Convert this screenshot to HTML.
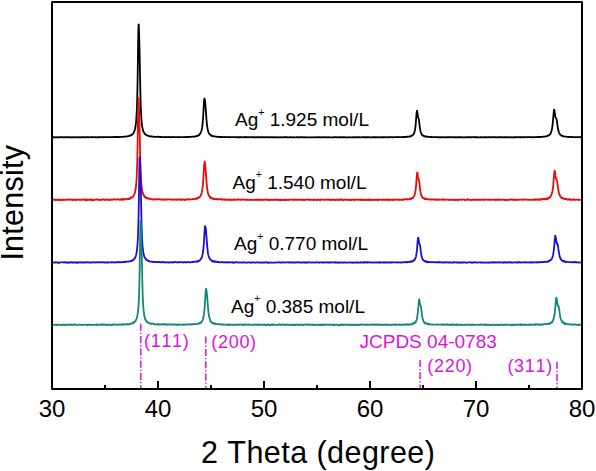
<!DOCTYPE html>
<html><head><meta charset="utf-8"><style>
html,body{margin:0;padding:0;background:#fff;}
svg{display:block;}
text{font-family:"Liberation Sans", sans-serif;font-kerning:none;}
</style></head><body>
<svg width="596" height="471" viewBox="0 0 596 471">
<rect width="596" height="471" fill="#fff"/>
<polyline fill="none" stroke="#000000" stroke-width="1.8" stroke-linejoin="round" points="52.00,137.28 52.50,137.30 53.00,137.26 53.50,137.21 54.00,137.24 54.50,137.20 55.00,137.28 55.50,137.39 56.00,137.24 56.50,137.23 57.00,137.32 57.50,137.31 58.00,137.29 58.50,137.20 59.00,137.27 59.50,137.33 60.00,137.17 60.50,137.24 61.00,137.12 61.50,137.17 62.00,137.12 62.50,137.26 63.00,137.17 63.50,137.30 64.00,137.29 64.50,137.26 65.00,137.07 65.50,137.23 66.00,137.27 66.50,137.28 67.00,137.15 67.50,137.23 68.00,137.19 68.50,137.20 69.00,137.36 69.50,137.20 70.00,137.27 70.50,137.34 71.00,137.22 71.50,137.26 72.00,137.28 72.50,137.27 73.00,137.17 73.50,137.27 74.00,137.38 74.50,137.14 75.00,137.33 75.50,137.27 76.00,137.21 76.50,137.43 77.00,137.32 77.50,137.16 78.00,137.27 78.50,137.31 79.00,137.24 79.50,137.31 80.00,137.25 80.50,137.31 81.00,137.37 81.50,137.20 82.00,137.27 82.50,137.22 83.00,137.26 83.50,137.16 84.00,137.21 84.50,137.24 85.00,137.32 85.50,137.34 86.00,137.14 86.50,137.18 87.00,137.30 87.50,137.08 88.00,137.21 88.50,137.24 89.00,137.35 89.50,137.30 90.00,137.21 90.50,137.21 91.00,137.22 91.50,137.36 92.00,137.20 92.50,137.21 93.00,137.26 93.50,137.22 94.00,137.22 94.50,137.14 95.00,137.23 95.50,137.19 96.00,137.32 96.50,137.28 97.00,137.22 97.50,137.28 98.00,137.19 98.50,137.30 99.00,137.21 99.50,137.26 100.00,137.10 100.50,137.24 101.00,137.07 101.50,137.04 102.00,137.18 102.50,137.12 103.00,137.21 103.50,137.38 104.00,137.12 104.50,137.13 105.00,137.20 105.50,137.22 106.00,137.16 106.50,137.16 107.00,137.23 107.50,137.21 108.00,137.07 108.50,137.15 109.00,137.15 109.50,137.06 110.00,137.16 110.50,137.06 111.00,137.21 111.50,137.14 112.00,137.13 112.50,137.06 113.00,137.09 113.50,136.93 114.00,136.99 114.50,137.11 115.00,136.89 115.50,137.13 116.00,136.91 116.50,137.10 117.00,136.96 117.50,137.08 118.00,137.01 118.50,136.86 119.00,137.08 119.50,137.08 120.00,136.93 120.50,136.90 121.00,136.89 121.50,136.79 122.00,136.95 122.50,136.78 123.00,136.79 123.50,136.69 124.00,136.67 124.50,136.58 125.00,136.75 125.50,136.58 126.00,136.62 126.50,136.48 127.00,136.34 127.50,136.30 128.00,136.19 128.50,136.13 129.00,135.98 129.50,135.84 130.00,135.58 130.50,135.44 130.75,135.55 131.00,135.22 131.25,135.05 131.50,135.03 131.75,134.97 132.00,134.52 132.25,134.43 132.50,134.17 132.75,133.81 133.00,133.76 133.25,133.36 133.50,133.00 133.75,132.49 134.00,132.12 134.25,131.45 134.50,130.81 134.75,129.92 135.00,128.96 135.25,128.08 135.50,126.49 135.75,124.86 136.00,122.66 136.25,119.87 136.50,116.31 136.75,111.78 137.00,105.44 137.25,97.05 137.50,85.74 137.75,71.05 138.00,53.15 138.25,35.72 138.50,24.94 138.75,24.52 139.00,31.31 139.25,39.30 139.50,48.18 139.75,60.13 140.00,73.98 140.25,87.06 140.50,97.80 140.75,105.84 141.00,112.24 141.25,116.54 141.50,120.30 141.75,122.97 142.00,125.14 142.25,126.94 142.50,128.26 142.75,129.11 143.00,129.99 143.25,131.02 143.50,131.49 143.75,132.15 144.00,132.72 144.25,132.89 144.50,133.21 144.75,133.76 145.00,134.02 145.25,134.24 145.50,134.49 145.75,134.60 146.00,134.72 146.25,135.01 146.50,135.08 146.75,135.15 147.00,135.46 147.25,135.52 147.50,135.66 147.75,135.63 148.00,135.74 148.25,135.79 148.50,135.87 149.00,136.09 149.50,136.11 150.00,136.31 150.50,136.39 151.00,136.61 151.50,136.38 152.00,136.63 152.50,136.60 153.00,136.65 153.50,136.57 154.00,136.69 154.50,136.83 155.00,136.79 155.50,136.83 156.00,136.82 156.50,136.97 157.00,136.89 157.50,136.72 158.00,136.87 158.50,136.78 159.00,136.68 159.50,136.93 160.00,137.10 160.50,137.00 161.00,136.91 161.50,136.94 162.00,137.12 162.50,137.05 163.00,137.05 163.50,137.05 164.00,137.06 164.50,137.13 165.00,137.12 165.50,137.09 166.00,136.99 166.50,137.13 167.00,137.03 167.50,137.18 168.00,136.99 168.50,137.09 169.00,137.10 169.50,136.99 170.00,137.25 170.50,137.23 171.00,137.07 171.50,137.18 172.00,137.15 172.50,136.90 173.00,137.14 173.50,137.11 174.00,137.12 174.50,137.03 175.00,137.09 175.50,137.10 176.00,137.21 176.50,137.14 177.00,137.11 177.50,137.24 178.00,137.06 178.50,137.08 179.00,136.95 179.50,137.23 180.00,137.18 180.50,137.17 181.00,137.15 181.50,137.10 182.00,137.10 182.50,137.06 183.00,137.06 183.50,137.07 184.00,137.19 184.50,137.10 185.00,137.04 185.50,136.99 186.00,136.97 186.50,137.15 187.00,137.04 187.50,136.99 188.00,136.94 188.50,136.86 189.00,136.93 189.50,136.99 190.00,136.86 190.50,136.85 191.00,136.83 191.50,136.82 192.00,136.64 192.50,136.72 193.00,136.63 193.50,136.73 194.00,136.53 194.50,136.58 195.00,136.58 195.50,136.33 196.00,136.21 196.30,136.20 196.50,136.13 196.55,136.03 196.80,136.09 197.00,136.17 197.05,135.95 197.30,135.87 197.50,135.71 197.55,135.82 197.80,135.57 198.00,135.49 198.05,135.68 198.30,135.35 198.50,135.41 198.55,135.42 198.80,135.14 199.00,135.02 199.05,135.11 199.30,134.70 199.50,134.47 199.55,134.34 199.80,134.19 200.00,134.07 200.05,133.96 200.30,133.40 200.50,133.06 200.55,133.00 200.80,132.56 201.00,132.02 201.05,131.93 201.30,131.20 201.50,130.44 201.55,130.27 201.80,129.20 202.00,128.11 202.05,127.88 202.30,126.36 202.50,124.59 202.55,124.08 202.80,121.28 203.00,119.00 203.05,118.04 203.30,114.23 203.50,110.99 203.55,110.06 203.80,105.39 204.00,101.94 204.05,101.41 204.30,98.89 204.50,98.45 204.55,98.69 204.80,99.39 205.00,100.70 205.05,101.06 205.30,103.54 205.50,105.75 205.55,106.23 205.80,109.76 206.00,112.54 206.05,113.56 206.30,117.17 206.50,119.81 206.55,120.25 206.80,123.12 207.00,124.90 207.05,125.29 207.30,127.13 207.50,128.24 207.55,128.50 207.80,129.93 208.00,130.63 208.05,130.86 208.30,131.74 208.50,132.02 208.55,132.23 208.80,132.89 209.00,133.29 209.05,133.31 209.30,133.84 209.50,134.04 209.55,133.97 209.80,134.30 210.00,134.67 210.05,134.69 210.30,134.69 210.50,135.15 210.55,135.12 210.80,135.36 211.00,135.33 211.05,135.37 211.30,135.43 211.50,135.86 211.55,135.64 211.80,135.91 212.00,135.79 212.05,135.88 212.30,135.81 212.50,135.99 212.55,136.13 212.80,136.00 213.00,136.26 213.05,136.21 213.30,136.15 213.50,136.25 213.55,136.26 213.80,136.35 214.00,136.35 214.05,136.33 214.50,136.45 215.00,136.47 215.50,136.51 216.00,136.67 216.50,136.80 217.00,136.64 217.50,136.81 218.00,136.79 218.50,136.79 219.00,136.98 219.50,136.88 220.00,137.08 220.50,136.91 221.00,137.02 221.50,136.99 222.00,136.96 222.50,137.09 223.00,137.04 223.50,137.11 224.00,137.07 224.50,136.99 225.00,137.09 225.50,137.11 226.00,137.19 226.50,137.04 227.00,137.12 227.50,136.99 228.00,137.20 228.50,137.06 229.00,137.00 229.50,137.15 230.00,137.25 230.50,137.04 231.00,137.08 231.50,137.11 232.00,137.09 232.50,137.22 233.00,137.12 233.50,137.13 234.00,137.24 234.50,137.14 235.00,137.24 235.50,137.12 236.00,137.11 236.50,137.06 237.00,137.36 237.50,137.19 238.00,137.24 238.50,137.22 239.00,137.23 239.50,137.23 240.00,137.38 240.50,137.14 241.00,137.10 241.50,137.15 242.00,137.12 242.50,137.29 243.00,137.30 243.50,137.16 244.00,137.12 244.50,137.21 245.00,137.35 245.50,137.01 246.00,137.28 246.50,137.15 247.00,137.33 247.50,137.16 248.00,137.22 248.50,137.12 249.00,137.17 249.50,137.36 250.00,137.32 250.50,137.22 251.00,137.18 251.50,137.10 252.00,137.22 252.50,137.25 253.00,137.25 253.50,137.25 254.00,137.16 254.50,137.25 255.00,137.25 255.50,137.36 256.00,137.41 256.50,137.25 257.00,137.20 257.50,137.26 258.00,137.21 258.50,137.20 259.00,137.26 259.50,137.18 260.00,137.31 260.50,137.26 261.00,137.28 261.50,137.25 262.00,137.21 262.50,137.19 263.00,137.25 263.50,137.22 264.00,137.29 264.50,137.27 265.00,137.16 265.50,137.27 266.00,137.16 266.50,137.22 267.00,137.25 267.50,137.10 268.00,137.28 268.50,137.28 269.00,137.26 269.50,137.24 270.00,137.24 270.50,137.19 271.00,137.25 271.50,137.23 272.00,137.28 272.50,137.18 273.00,137.29 273.50,137.29 274.00,137.26 274.50,137.24 275.00,137.32 275.50,137.14 276.00,137.31 276.50,137.29 277.00,137.30 277.50,137.31 278.00,137.22 278.50,137.25 279.00,137.33 279.50,137.31 280.00,137.29 280.50,137.15 281.00,137.32 281.50,137.37 282.00,137.36 282.50,137.30 283.00,137.15 283.50,137.35 284.00,137.27 284.50,137.07 285.00,137.31 285.50,137.16 286.00,137.17 286.50,137.23 287.00,137.38 287.50,137.25 288.00,137.30 288.50,137.42 289.00,137.41 289.50,137.27 290.00,137.26 290.50,137.18 291.00,137.22 291.50,137.31 292.00,137.31 292.50,137.29 293.00,137.36 293.50,137.22 294.00,137.28 294.50,137.34 295.00,137.33 295.50,137.37 296.00,137.31 296.50,137.26 297.00,137.31 297.50,137.20 298.00,137.15 298.50,137.33 299.00,137.28 299.50,137.31 300.00,137.14 300.50,137.25 301.00,137.23 301.50,137.21 302.00,137.10 302.50,137.26 303.00,137.36 303.50,137.31 304.00,137.23 304.50,137.28 305.00,137.34 305.50,137.06 306.00,137.27 306.50,137.33 307.00,137.34 307.50,137.42 308.00,137.38 308.50,137.31 309.00,137.31 309.50,137.35 310.00,137.24 310.50,137.28 311.00,137.36 311.50,137.44 312.00,137.27 312.50,137.28 313.00,137.30 313.50,137.39 314.00,137.28 314.50,137.40 315.00,137.21 315.50,137.27 316.00,137.27 316.50,137.35 317.00,137.37 317.50,137.16 318.00,137.21 318.50,137.31 319.00,137.23 319.50,137.16 320.00,137.37 320.50,137.32 321.00,137.32 321.50,137.25 322.00,137.37 322.50,137.26 323.00,137.37 323.50,137.21 324.00,137.21 324.50,137.30 325.00,137.23 325.50,137.34 326.00,137.30 326.50,137.21 327.00,137.29 327.50,137.26 328.00,137.36 328.50,137.23 329.00,137.25 329.50,137.38 330.00,137.47 330.50,137.45 331.00,137.29 331.50,137.30 332.00,137.41 332.50,137.27 333.00,137.20 333.50,137.29 334.00,137.32 334.50,137.22 335.00,137.15 335.50,137.17 336.00,137.34 336.50,137.22 337.00,137.27 337.50,137.30 338.00,137.33 338.50,137.26 339.00,137.32 339.50,137.21 340.00,137.25 340.50,137.20 341.00,137.37 341.50,137.28 342.00,137.22 342.50,137.25 343.00,137.26 343.50,137.34 344.00,137.15 344.50,137.20 345.00,137.25 345.50,137.49 346.00,137.36 346.50,137.27 347.00,137.34 347.50,137.45 348.00,137.26 348.50,137.25 349.00,137.38 349.50,137.32 350.00,137.34 350.50,137.24 351.00,137.44 351.50,137.42 352.00,137.33 352.50,137.34 353.00,137.12 353.50,137.33 354.00,137.26 354.50,137.31 355.00,137.33 355.50,137.25 356.00,137.14 356.50,137.31 357.00,137.22 357.50,137.25 358.00,137.23 358.50,137.25 359.00,137.09 359.50,137.38 360.00,137.30 360.50,137.37 361.00,137.44 361.50,137.28 362.00,137.13 362.50,137.20 363.00,137.18 363.50,137.23 364.00,137.28 364.50,137.11 365.00,137.30 365.50,137.15 366.00,137.30 366.50,137.26 367.00,137.25 367.50,137.27 368.00,137.23 368.50,137.22 369.00,137.13 369.50,137.27 370.00,137.42 370.50,137.43 371.00,137.38 371.50,137.33 372.00,137.21 372.50,137.39 373.00,137.26 373.50,137.26 374.00,137.24 374.50,137.27 375.00,137.23 375.50,137.26 376.00,137.18 376.50,137.23 377.00,137.45 377.50,137.26 378.00,137.24 378.50,137.30 379.00,137.32 379.50,137.17 380.00,137.24 380.50,137.33 381.00,137.28 381.50,137.26 382.00,137.38 382.50,137.20 383.00,137.26 383.50,137.21 384.00,137.37 384.50,137.09 385.00,137.19 385.50,137.20 386.00,137.30 386.50,137.29 387.00,137.35 387.50,137.11 388.00,137.30 388.50,137.21 389.00,137.18 389.50,137.27 390.00,137.15 390.50,137.05 391.00,137.19 391.50,137.10 392.00,137.16 392.50,137.24 393.00,137.24 393.50,137.34 394.00,137.19 394.50,137.07 395.00,137.13 395.50,137.11 396.00,137.08 396.50,137.22 397.00,137.12 397.50,137.00 398.00,137.22 398.50,137.15 399.00,137.18 399.50,137.15 400.00,137.18 400.50,137.12 401.00,137.21 401.50,137.13 402.00,137.12 402.50,137.11 403.00,136.93 403.50,137.02 404.00,137.00 404.50,137.01 405.00,136.86 405.50,137.08 406.00,136.92 406.50,136.78 407.00,136.69 407.50,136.77 408.00,136.73 408.50,136.61 408.90,136.62 409.00,136.54 409.15,136.62 409.40,136.47 409.50,136.51 409.65,136.56 409.90,136.65 410.00,136.31 410.15,136.32 410.40,136.22 410.50,136.34 410.65,136.12 410.90,136.10 411.00,136.10 411.15,135.96 411.40,135.86 411.50,135.85 411.65,135.64 411.90,135.56 412.00,135.59 412.15,135.55 412.40,135.34 412.50,135.12 412.65,135.11 412.90,134.99 413.00,134.86 413.15,134.63 413.40,134.22 413.50,134.22 413.65,133.86 413.90,133.33 414.00,133.14 414.15,133.00 414.40,132.17 414.50,131.93 414.65,131.21 414.90,130.25 415.00,129.57 415.15,128.73 415.40,127.22 415.50,126.20 415.65,124.65 415.90,121.90 416.00,120.69 416.15,118.78 416.40,115.16 416.50,113.73 416.65,112.28 416.90,110.80 417.00,110.71 417.15,111.22 417.40,112.67 417.50,113.51 417.65,114.45 417.90,116.30 418.00,116.92 418.15,117.31 418.40,117.85 418.50,118.06 418.65,118.67 418.90,119.53 419.00,120.28 419.15,121.51 419.40,123.74 419.50,124.50 419.65,125.88 419.90,127.75 420.00,128.47 420.15,129.37 420.40,130.55 420.50,131.11 420.65,131.78 420.90,132.42 421.00,132.78 421.15,133.24 421.40,133.61 421.50,133.92 421.65,134.05 421.90,134.62 422.00,134.86 422.15,135.01 422.40,135.06 422.50,135.24 422.65,135.31 422.90,135.49 423.00,135.69 423.15,135.53 423.40,135.88 423.50,135.84 423.65,136.04 423.90,136.04 424.00,136.00 424.15,136.14 424.40,136.27 424.50,136.24 424.65,136.32 424.90,136.30 425.00,136.19 425.15,136.49 425.40,136.53 425.50,136.50 425.65,136.52 425.90,136.66 426.00,136.54 426.15,136.55 426.40,136.63 426.50,136.76 426.65,136.56 427.00,136.83 427.50,136.73 428.00,136.74 428.50,136.98 429.00,136.90 429.50,136.83 430.00,136.94 430.50,137.07 431.00,137.11 431.50,137.00 432.00,137.09 432.50,137.13 433.00,137.03 433.50,137.12 434.00,137.10 434.50,137.07 435.00,137.09 435.50,137.14 436.00,137.15 436.50,137.11 437.00,137.12 437.50,137.26 438.00,137.19 438.50,137.25 439.00,137.28 439.50,137.24 440.00,137.38 440.50,137.13 441.00,137.27 441.50,137.18 442.00,137.36 442.50,137.35 443.00,137.05 443.50,137.14 444.00,137.27 444.50,137.29 445.00,137.29 445.50,137.22 446.00,137.27 446.50,137.29 447.00,137.23 447.50,137.32 448.00,137.05 448.50,137.29 449.00,137.16 449.50,137.32 450.00,137.22 450.50,137.17 451.00,137.28 451.50,137.17 452.00,137.17 452.50,137.12 453.00,137.25 453.50,137.29 454.00,137.34 454.50,137.24 455.00,137.34 455.50,137.26 456.00,137.25 456.50,137.30 457.00,137.34 457.50,137.23 458.00,137.24 458.50,137.25 459.00,137.27 459.50,137.19 460.00,137.35 460.50,137.23 461.00,137.30 461.50,137.20 462.00,137.29 462.50,137.30 463.00,137.23 463.50,137.43 464.00,137.30 464.50,137.41 465.00,137.34 465.50,137.21 466.00,137.24 466.50,137.30 467.00,137.27 467.50,137.27 468.00,137.25 468.50,137.12 469.00,137.25 469.50,137.09 470.00,137.30 470.50,137.21 471.00,137.21 471.50,137.25 472.00,137.29 472.50,137.15 473.00,137.13 473.50,137.18 474.00,137.11 474.50,137.19 475.00,137.40 475.50,137.19 476.00,137.32 476.50,137.16 477.00,137.30 477.50,137.25 478.00,137.27 478.50,137.32 479.00,137.42 479.50,137.29 480.00,137.28 480.50,137.19 481.00,137.32 481.50,137.25 482.00,137.34 482.50,137.27 483.00,137.41 483.50,137.11 484.00,137.25 484.50,137.34 485.00,137.24 485.50,137.21 486.00,137.25 486.50,137.16 487.00,137.28 487.50,137.47 488.00,137.37 488.50,137.18 489.00,137.20 489.50,137.24 490.00,137.35 490.50,137.20 491.00,137.22 491.50,137.34 492.00,137.34 492.50,137.24 493.00,137.18 493.50,137.14 494.00,137.21 494.50,137.09 495.00,137.33 495.50,137.22 496.00,137.31 496.50,137.42 497.00,137.36 497.50,137.17 498.00,137.34 498.50,137.36 499.00,137.21 499.50,137.19 500.00,137.26 500.50,137.14 501.00,137.39 501.50,137.07 502.00,137.18 502.50,137.24 503.00,137.25 503.50,137.28 504.00,137.29 504.50,137.25 505.00,137.36 505.50,137.09 506.00,137.26 506.50,137.20 507.00,137.27 507.50,137.28 508.00,137.19 508.50,137.21 509.00,137.32 509.50,137.29 510.00,137.20 510.50,137.42 511.00,137.44 511.50,137.14 512.00,137.28 512.50,137.46 513.00,137.32 513.50,137.27 514.00,137.23 514.50,137.20 515.00,137.23 515.50,137.20 516.00,137.31 516.50,137.21 517.00,137.21 517.50,137.14 518.00,137.24 518.50,137.17 519.00,137.22 519.50,137.32 520.00,137.26 520.50,137.27 521.00,137.26 521.50,137.23 522.00,137.22 522.50,137.20 523.00,137.29 523.50,137.13 524.00,137.33 524.50,137.22 525.00,137.15 525.50,137.17 526.00,137.15 526.50,137.22 527.00,137.14 527.50,137.29 528.00,137.13 528.50,137.00 529.00,137.13 529.50,137.02 530.00,137.18 530.50,137.26 531.00,137.22 531.50,137.05 532.00,137.09 532.50,137.30 533.00,137.17 533.50,137.14 534.00,137.22 534.50,137.33 535.00,137.22 535.50,137.12 536.00,137.12 536.50,137.13 537.00,137.02 537.50,136.97 538.00,137.05 538.50,136.95 539.00,137.01 539.50,137.00 540.00,137.17 540.50,136.88 541.00,136.91 541.50,136.88 542.00,136.90 542.50,136.91 543.00,136.74 543.50,136.67 544.00,136.54 544.50,136.54 545.00,136.60 545.50,136.48 546.00,136.29 546.10,136.32 546.35,136.30 546.50,136.31 546.60,136.18 546.85,136.15 547.00,135.96 547.10,135.99 547.35,136.16 547.50,135.76 547.60,135.89 547.85,135.84 548.00,135.72 548.10,135.64 548.35,135.58 548.50,135.50 548.60,135.44 548.85,135.11 549.00,135.17 549.10,135.03 549.35,134.85 549.50,134.79 549.60,134.73 549.85,134.48 550.00,134.17 550.10,134.17 550.35,133.83 550.50,133.58 550.60,133.42 550.85,132.77 551.00,132.41 551.10,132.26 551.35,131.31 551.50,130.96 551.60,130.51 551.85,129.45 552.00,128.55 552.10,128.08 552.35,126.55 552.50,125.51 552.60,124.68 552.85,122.18 553.00,120.54 553.10,119.32 553.35,116.42 553.50,114.53 553.60,113.48 553.85,111.27 554.00,110.18 554.10,109.69 554.35,109.99 554.50,110.64 554.60,111.31 554.85,113.49 555.00,114.48 555.10,114.97 555.35,116.63 555.50,117.29 555.60,117.39 555.85,117.79 556.00,117.97 556.10,118.13 556.35,118.56 556.50,119.07 556.60,119.48 556.85,120.88 557.00,121.95 557.10,122.63 557.35,124.31 557.50,125.59 557.60,126.34 557.85,127.88 558.00,128.87 558.10,129.25 558.35,130.33 558.50,131.15 558.60,131.42 558.85,132.14 559.00,132.61 559.10,132.86 559.35,133.32 559.50,133.33 559.60,133.67 559.85,134.06 560.00,134.21 560.10,134.44 560.35,134.81 560.50,134.80 560.60,134.83 560.85,135.33 561.00,135.21 561.10,135.21 561.35,135.50 561.50,135.60 561.60,135.55 561.85,135.81 562.00,135.76 562.10,135.77 562.35,135.97 562.50,136.07 562.60,135.98 562.85,136.15 563.00,136.16 563.10,136.44 563.35,136.20 563.50,136.42 563.60,136.32 563.85,136.36 564.00,136.47 564.50,136.58 565.00,136.69 565.50,136.67 566.00,136.65 566.50,136.71 567.00,136.84 567.50,136.89 568.00,136.99 568.50,136.94 569.00,137.02 569.50,137.09 570.00,136.99 570.50,136.87 571.00,136.92 571.50,136.91 572.00,137.18 572.50,136.99 573.00,137.18 573.50,137.14 574.00,137.24 574.50,137.19 575.00,137.11 575.50,137.11 576.00,137.14 576.50,137.16 577.00,137.11 577.50,137.15 578.00,137.30 578.50,137.03 579.00,137.19 579.50,137.10 580.00,137.20 580.50,137.26 581.00,137.19 581.50,137.26 582.00,137.07"/><polyline fill="none" stroke="#e80c0c" stroke-width="1.8" stroke-linejoin="round" points="52.00,200.01 52.50,199.66 53.00,199.91 53.50,199.82 54.00,199.26 54.50,199.63 55.00,199.82 55.50,200.10 56.00,199.84 56.50,199.83 57.00,199.49 57.50,200.07 58.00,200.15 58.50,199.78 59.00,199.73 59.50,199.45 60.00,199.96 60.50,200.33 61.00,199.92 61.50,200.03 62.00,199.89 62.50,199.58 63.00,200.05 63.50,199.53 64.00,199.73 64.50,199.83 65.00,199.95 65.50,199.86 66.00,199.85 66.50,199.62 67.00,199.51 67.50,199.79 68.00,199.63 68.50,199.51 69.00,199.52 69.50,199.67 70.00,199.40 70.50,199.50 71.00,199.44 71.50,199.81 72.00,199.85 72.50,200.18 73.00,199.46 73.50,199.63 74.00,199.95 74.50,199.72 75.00,199.70 75.50,200.12 76.00,199.70 76.50,199.53 77.00,199.50 77.50,199.83 78.00,199.83 78.50,199.48 79.00,199.56 79.50,199.87 80.00,199.88 80.50,199.63 81.00,199.89 81.50,199.88 82.00,199.40 82.50,199.70 83.00,199.84 83.50,199.64 84.00,199.32 84.50,199.70 85.00,199.91 85.50,200.08 86.00,199.31 86.50,200.29 87.00,199.52 87.50,199.95 88.00,200.00 88.50,199.95 89.00,199.78 89.50,199.51 90.00,199.88 90.50,199.60 91.00,199.23 91.50,200.32 92.00,199.89 92.50,200.11 93.00,199.55 93.50,200.04 94.00,200.06 94.50,200.06 95.00,199.73 95.50,199.49 96.00,199.70 96.50,199.28 97.00,199.38 97.50,199.75 98.00,199.52 98.50,199.69 99.00,199.70 99.50,200.12 100.00,199.99 100.50,199.71 101.00,199.96 101.50,199.55 102.00,199.64 102.50,199.90 103.00,199.45 103.50,199.65 104.00,199.43 104.50,199.72 105.00,200.03 105.50,199.54 106.00,199.74 106.50,199.50 107.00,199.44 107.50,199.42 108.00,199.98 108.50,200.16 109.00,199.77 109.50,199.51 110.00,199.80 110.50,199.58 111.00,199.81 111.50,199.70 112.00,199.69 112.50,199.76 113.00,199.50 113.50,199.53 114.00,199.25 114.50,199.51 115.00,199.30 115.50,199.55 116.00,199.38 116.50,199.59 117.00,199.65 117.50,199.25 118.00,199.36 118.50,199.32 119.00,199.66 119.50,199.85 120.00,199.65 120.50,199.38 121.00,199.75 121.50,199.10 122.00,199.71 122.50,199.23 123.00,198.75 123.50,199.88 124.00,199.62 124.50,199.02 125.00,199.24 125.50,199.11 126.00,199.13 126.50,198.73 127.00,198.84 127.50,199.02 128.00,198.88 128.50,199.00 129.00,198.64 129.50,199.02 130.00,198.18 130.40,198.26 130.50,197.73 130.65,197.82 130.90,198.30 131.00,197.74 131.15,198.00 131.40,197.73 131.50,197.45 131.65,197.52 131.90,197.32 132.00,197.26 132.15,197.43 132.40,197.21 132.50,196.83 132.65,196.62 132.90,196.64 133.00,196.44 133.15,196.53 133.40,196.59 133.50,196.01 133.65,195.56 133.90,195.09 134.00,194.73 134.15,194.40 134.40,193.77 134.50,193.66 134.65,193.21 134.90,192.66 135.00,191.98 135.15,191.40 135.40,189.88 135.50,190.06 135.65,188.80 135.90,187.22 136.00,186.05 136.15,184.70 136.40,181.05 136.50,179.80 136.65,177.76 136.90,171.02 137.00,169.03 137.15,164.44 137.40,153.92 137.50,149.12 137.65,140.96 137.90,124.34 138.00,118.21 138.15,108.73 138.40,99.31 138.50,98.18 138.65,99.28 138.90,105.11 139.00,108.05 139.15,111.62 139.40,121.04 139.50,124.62 139.65,131.13 139.90,143.06 140.00,148.03 140.15,155.05 140.40,164.58 140.50,167.09 140.65,172.01 140.90,178.15 141.00,178.51 141.15,181.69 141.40,184.64 141.50,185.55 141.65,187.34 141.90,188.53 142.00,189.55 142.15,190.76 142.40,191.54 142.50,191.91 142.65,192.62 142.90,193.31 143.00,194.11 143.15,193.89 143.40,194.93 143.50,194.60 143.65,195.37 143.90,195.61 144.00,195.15 144.15,196.01 144.40,196.07 144.50,196.34 144.65,196.99 144.90,196.60 145.00,196.70 145.15,197.43 145.40,197.31 145.50,197.73 145.65,197.54 145.90,197.41 146.00,197.66 146.15,198.05 146.40,198.11 146.50,197.94 146.65,198.02 146.90,198.09 147.00,198.02 147.15,198.66 147.40,198.30 147.50,198.07 147.65,198.27 147.90,198.62 148.00,198.63 148.15,198.50 148.50,198.46 149.00,198.73 149.50,198.44 150.00,198.61 150.50,199.15 151.00,198.93 151.50,199.18 152.00,199.41 152.50,199.33 153.00,199.23 153.50,199.73 154.00,199.44 154.50,199.25 155.00,199.51 155.50,199.46 156.00,199.21 156.50,199.43 157.00,199.40 157.50,199.02 158.00,199.43 158.50,199.42 159.00,199.40 159.50,199.15 160.00,199.44 160.50,199.52 161.00,199.56 161.50,199.30 162.00,199.69 162.50,199.30 163.00,199.52 163.50,199.86 164.00,199.43 164.50,199.48 165.00,199.82 165.50,199.51 166.00,199.54 166.50,199.65 167.00,199.83 167.50,199.14 168.00,199.44 168.50,199.40 169.00,199.39 169.50,199.44 170.00,199.44 170.50,199.69 171.00,199.44 171.50,199.65 172.00,199.72 172.50,199.47 173.00,199.66 173.50,199.98 174.00,199.70 174.50,199.50 175.00,199.62 175.50,199.44 176.00,199.69 176.50,199.81 177.00,199.45 177.50,199.58 178.00,199.86 178.50,199.52 179.00,199.66 179.50,199.40 180.00,199.44 180.50,199.50 181.00,200.06 181.50,199.52 182.00,199.49 182.50,199.47 183.00,199.55 183.50,199.72 184.00,199.61 184.50,200.00 185.00,199.60 185.50,199.85 186.00,199.60 186.50,199.66 187.00,199.21 187.50,199.48 188.00,199.48 188.50,199.42 189.00,199.00 189.50,199.63 190.00,199.34 190.50,199.30 191.00,199.32 191.50,199.29 192.00,199.40 192.50,199.00 193.00,199.03 193.50,199.25 194.00,199.16 194.50,198.99 195.00,198.87 195.50,198.73 196.00,198.80 196.40,198.99 196.50,198.47 196.65,199.00 196.90,198.78 197.00,198.46 197.15,198.69 197.40,198.11 197.50,198.01 197.65,198.05 197.90,198.15 198.00,198.12 198.15,198.01 198.40,198.02 198.50,197.45 198.65,197.97 198.90,197.37 199.00,197.47 199.15,197.41 199.40,197.04 199.50,196.89 199.65,196.83 199.90,196.79 200.00,196.82 200.15,196.62 200.40,195.88 200.50,195.77 200.65,195.47 200.90,195.30 201.00,194.47 201.15,194.90 201.40,193.76 201.50,193.35 201.65,193.10 201.90,192.22 202.00,191.55 202.15,190.92 202.40,189.07 202.50,188.61 202.65,187.35 202.90,184.48 203.00,183.74 203.15,181.45 203.40,177.68 203.50,175.73 203.65,173.30 203.90,169.22 204.00,166.92 204.15,165.36 204.40,162.88 204.50,162.41 204.65,161.49 204.90,163.10 205.00,163.98 205.15,164.68 205.40,167.20 205.50,167.46 205.65,170.12 205.90,172.96 206.00,174.83 206.15,176.18 206.40,180.42 206.50,181.46 206.65,183.59 206.90,185.78 207.00,186.80 207.15,188.83 207.40,189.79 207.50,190.43 207.65,191.37 207.90,192.34 208.00,193.31 208.15,193.98 208.40,194.16 208.50,194.18 208.65,195.26 208.90,195.79 209.00,195.91 209.15,196.25 209.40,196.16 209.50,196.46 209.65,196.37 209.90,196.65 210.00,197.32 210.15,197.08 210.40,197.98 210.50,197.55 210.65,197.49 210.90,197.99 211.00,198.28 211.15,198.07 211.40,197.82 211.50,198.23 211.65,198.52 211.90,198.21 212.00,198.19 212.15,198.64 212.40,198.53 212.50,198.29 212.65,198.50 212.90,198.49 213.00,198.75 213.15,198.74 213.40,199.03 213.50,198.96 213.65,198.49 213.90,198.98 214.00,199.10 214.15,199.03 214.50,199.22 215.00,198.95 215.50,198.93 216.00,199.39 216.50,199.01 217.00,198.82 217.50,199.54 218.00,199.20 218.50,199.32 219.00,199.12 219.50,199.16 220.00,199.22 220.50,199.40 221.00,199.58 221.50,199.03 222.00,199.69 222.50,199.30 223.00,199.33 223.50,199.71 224.00,199.57 224.50,199.27 225.00,199.99 225.50,199.43 226.00,199.67 226.50,199.67 227.00,199.93 227.50,199.55 228.00,199.86 228.50,199.50 229.00,199.89 229.50,199.50 230.00,199.59 230.50,200.07 231.00,199.74 231.50,199.70 232.00,200.15 232.50,199.76 233.00,199.52 233.50,199.85 234.00,199.45 234.50,199.93 235.00,199.95 235.50,199.59 236.00,199.58 236.50,199.75 237.00,199.72 237.50,199.52 238.00,199.84 238.50,199.30 239.00,199.63 239.50,199.64 240.00,199.67 240.50,199.79 241.00,199.48 241.50,199.85 242.00,199.70 242.50,199.60 243.00,199.46 243.50,199.50 244.00,199.81 244.50,199.54 245.00,199.75 245.50,199.96 246.00,199.96 246.50,200.06 247.00,199.69 247.50,199.53 248.00,199.96 248.50,199.81 249.00,199.98 249.50,199.75 250.00,200.00 250.50,199.93 251.00,199.90 251.50,199.86 252.00,199.84 252.50,199.80 253.00,199.80 253.50,199.96 254.00,199.65 254.50,200.11 255.00,199.74 255.50,199.96 256.00,199.74 256.50,199.71 257.00,200.18 257.50,199.70 258.00,199.50 258.50,199.62 259.00,199.70 259.50,200.20 260.00,199.81 260.50,199.96 261.00,199.56 261.50,199.84 262.00,199.90 262.50,200.13 263.00,199.63 263.50,199.89 264.00,199.83 264.50,199.56 265.00,199.77 265.50,199.72 266.00,199.30 266.50,199.89 267.00,199.88 267.50,199.68 268.00,199.50 268.50,200.07 269.00,199.83 269.50,199.98 270.00,200.06 270.50,199.67 271.00,199.94 271.50,199.72 272.00,199.76 272.50,199.76 273.00,199.77 273.50,200.00 274.00,199.80 274.50,199.74 275.00,199.72 275.50,199.85 276.00,199.59 276.50,199.67 277.00,199.77 277.50,199.66 278.00,199.75 278.50,199.65 279.00,200.18 279.50,200.05 280.00,199.87 280.50,199.77 281.00,200.22 281.50,199.84 282.00,199.76 282.50,199.84 283.00,199.84 283.50,200.07 284.00,199.78 284.50,200.21 285.00,199.60 285.50,199.92 286.00,199.58 286.50,200.15 287.00,199.71 287.50,199.77 288.00,199.97 288.50,200.03 289.00,199.55 289.50,199.71 290.00,199.50 290.50,199.81 291.00,199.76 291.50,199.71 292.00,199.64 292.50,199.70 293.00,199.63 293.50,199.89 294.00,200.09 294.50,199.39 295.00,199.76 295.50,199.70 296.00,199.88 296.50,199.59 297.00,199.75 297.50,199.57 298.00,199.92 298.50,199.80 299.00,199.75 299.50,199.86 300.00,199.73 300.50,199.47 301.00,199.90 301.50,199.84 302.00,199.75 302.50,199.98 303.00,200.03 303.50,199.56 304.00,199.63 304.50,200.10 305.00,200.07 305.50,199.63 306.00,199.54 306.50,199.65 307.00,199.68 307.50,199.46 308.00,199.79 308.50,199.52 309.00,199.54 309.50,199.97 310.00,199.65 310.50,199.77 311.00,199.91 311.50,199.95 312.00,199.72 312.50,199.79 313.00,199.62 313.50,200.14 314.00,199.92 314.50,199.56 315.00,199.78 315.50,199.93 316.00,199.88 316.50,200.15 317.00,200.06 317.50,199.68 318.00,199.77 318.50,199.52 319.00,199.83 319.50,199.81 320.00,200.33 320.50,199.80 321.00,199.36 321.50,199.65 322.00,199.81 322.50,199.53 323.00,199.61 323.50,199.71 324.00,199.85 324.50,199.75 325.00,199.60 325.50,199.94 326.00,199.67 326.50,199.68 327.00,199.50 327.50,199.63 328.00,199.92 328.50,199.46 329.00,199.77 329.50,199.93 330.00,199.71 330.50,199.83 331.00,199.56 331.50,200.05 332.00,200.01 332.50,199.83 333.00,199.43 333.50,199.57 334.00,199.98 334.50,200.13 335.00,199.84 335.50,200.04 336.00,199.66 336.50,199.75 337.00,199.78 337.50,199.87 338.00,199.47 338.50,199.97 339.00,200.05 339.50,199.55 340.00,199.51 340.50,199.85 341.00,199.65 341.50,199.30 342.00,199.95 342.50,199.81 343.00,199.69 343.50,200.21 344.00,199.81 344.50,199.63 345.00,199.80 345.50,199.57 346.00,199.63 346.50,199.86 347.00,199.67 347.50,199.69 348.00,200.12 348.50,199.96 349.00,199.94 349.50,199.89 350.00,199.88 350.50,200.08 351.00,199.78 351.50,200.16 352.00,199.59 352.50,199.73 353.00,199.50 353.50,199.71 354.00,199.88 354.50,200.07 355.00,199.64 355.50,199.78 356.00,199.71 356.50,199.63 357.00,199.54 357.50,199.79 358.00,199.43 358.50,199.80 359.00,199.78 359.50,199.64 360.00,199.57 360.50,199.50 361.00,200.16 361.50,199.50 362.00,200.09 362.50,199.90 363.00,199.70 363.50,199.54 364.00,199.99 364.50,200.13 365.00,199.58 365.50,199.71 366.00,199.99 366.50,199.84 367.00,200.18 367.50,199.66 368.00,199.88 368.50,199.52 369.00,200.20 369.50,199.62 370.00,199.32 370.50,199.74 371.00,199.74 371.50,200.16 372.00,199.70 372.50,199.77 373.00,199.89 373.50,200.09 374.00,199.75 374.50,199.98 375.00,199.87 375.50,199.70 376.00,199.78 376.50,199.77 377.00,199.58 377.50,200.01 378.00,199.48 378.50,200.00 379.00,199.95 379.50,199.74 380.00,199.60 380.50,199.71 381.00,199.85 381.50,199.91 382.00,199.81 382.50,199.95 383.00,199.64 383.50,199.80 384.00,199.43 384.50,199.90 385.00,199.78 385.50,199.66 386.00,199.98 386.50,199.88 387.00,199.16 387.50,199.75 388.00,199.44 388.50,199.95 389.00,200.24 389.50,199.62 390.00,199.74 390.50,199.67 391.00,199.79 391.50,199.85 392.00,199.98 392.50,199.51 393.00,200.03 393.50,199.51 394.00,199.76 394.50,199.94 395.00,199.84 395.50,199.50 396.00,199.54 396.50,199.58 397.00,199.66 397.50,199.91 398.00,199.39 398.50,199.75 399.00,199.78 399.50,199.76 400.00,199.73 400.50,199.94 401.00,199.71 401.50,199.78 402.00,199.71 402.50,199.95 403.00,199.16 403.50,199.81 404.00,199.47 404.50,199.44 405.00,199.28 405.50,199.06 406.00,199.34 406.50,199.25 407.00,199.46 407.50,199.00 408.00,199.57 408.50,199.26 409.00,199.08 409.20,198.95 409.45,198.89 409.50,198.80 409.70,198.89 409.95,198.96 410.00,198.91 410.20,198.59 410.45,198.78 410.50,198.63 410.70,198.81 410.95,199.11 411.00,198.82 411.20,198.54 411.45,198.16 411.50,198.18 411.70,198.03 411.95,198.45 412.00,198.09 412.20,198.17 412.45,197.86 412.50,197.98 412.70,198.14 412.95,197.45 413.00,197.48 413.20,197.18 413.45,197.28 413.50,196.78 413.70,196.47 413.95,196.01 414.00,195.91 414.20,195.96 414.45,195.88 414.50,194.88 414.70,194.77 414.95,193.69 415.00,193.14 415.20,192.42 415.45,190.99 415.50,190.54 415.70,189.74 415.95,186.40 416.00,186.49 416.20,184.16 416.45,180.55 416.50,180.06 416.70,177.47 416.95,174.29 417.00,173.93 417.20,172.91 417.45,172.35 417.50,173.66 417.70,175.26 417.95,176.86 418.00,177.24 418.20,177.81 418.45,179.23 418.50,179.18 418.70,179.71 418.95,180.82 419.00,180.49 419.20,181.69 419.45,183.06 419.50,183.98 419.70,185.87 419.95,187.89 420.00,188.31 420.20,190.55 420.45,191.39 420.50,191.72 420.70,192.81 420.95,194.36 421.00,194.77 421.20,194.99 421.45,195.41 421.50,195.60 421.70,196.38 421.95,196.36 422.00,197.00 422.20,197.28 422.45,197.28 422.50,197.47 422.70,197.70 422.95,198.11 423.00,197.55 423.20,198.21 423.45,198.02 423.50,197.97 423.70,198.28 423.95,198.33 424.00,198.18 424.20,198.14 424.45,198.38 424.50,198.93 424.70,199.11 424.95,198.90 425.00,199.03 425.20,198.71 425.45,198.87 425.50,198.97 425.70,198.71 425.95,198.79 426.00,199.03 426.20,198.98 426.45,198.86 426.50,199.18 426.70,199.07 426.95,199.39 427.00,199.17 427.50,199.17 428.00,199.32 428.50,199.30 429.00,199.24 429.50,199.33 430.00,199.60 430.50,199.61 431.00,199.77 431.50,199.16 432.00,199.45 432.50,199.47 433.00,199.60 433.50,199.49 434.00,199.49 434.50,199.77 435.00,199.65 435.50,199.38 436.00,199.91 436.50,199.85 437.00,199.53 437.50,199.83 438.00,199.51 438.50,199.90 439.00,199.63 439.50,199.52 440.00,199.61 440.50,199.53 441.00,199.74 441.50,199.74 442.00,199.71 442.50,199.59 443.00,198.96 443.50,199.73 444.00,199.33 444.50,199.77 445.00,199.95 445.50,199.78 446.00,199.65 446.50,199.69 447.00,199.70 447.50,199.62 448.00,199.61 448.50,199.55 449.00,199.98 449.50,199.74 450.00,199.94 450.50,199.69 451.00,199.76 451.50,199.71 452.00,199.84 452.50,199.92 453.00,199.80 453.50,199.61 454.00,199.59 454.50,200.09 455.00,199.70 455.50,199.69 456.00,200.05 456.50,199.98 457.00,199.87 457.50,199.68 458.00,200.24 458.50,199.84 459.00,199.87 459.50,199.73 460.00,199.47 460.50,199.49 461.00,199.84 461.50,199.84 462.00,199.71 462.50,199.52 463.00,199.47 463.50,199.70 464.00,199.47 464.50,199.95 465.00,200.00 465.50,200.34 466.00,199.95 466.50,199.65 467.00,199.59 467.50,199.06 468.00,199.65 468.50,199.73 469.00,199.97 469.50,199.89 470.00,199.89 470.50,199.81 471.00,199.90 471.50,200.06 472.00,199.55 472.50,199.68 473.00,199.49 473.50,200.10 474.00,200.03 474.50,199.92 475.00,199.53 475.50,199.81 476.00,199.72 476.50,199.79 477.00,199.73 477.50,199.88 478.00,199.69 478.50,199.95 479.00,199.82 479.50,199.71 480.00,199.75 480.50,199.68 481.00,199.94 481.50,199.72 482.00,199.83 482.50,199.69 483.00,199.47 483.50,199.96 484.00,199.56 484.50,199.91 485.00,199.86 485.50,199.43 486.00,199.58 486.50,199.67 487.00,199.60 487.50,199.53 488.00,199.92 488.50,199.72 489.00,199.85 489.50,199.68 490.00,199.83 490.50,199.62 491.00,199.76 491.50,199.89 492.00,199.78 492.50,199.68 493.00,199.55 493.50,199.80 494.00,199.84 494.50,199.72 495.00,199.61 495.50,199.88 496.00,200.27 496.50,199.71 497.00,199.84 497.50,199.84 498.00,199.24 498.50,199.79 499.00,199.62 499.50,200.05 500.00,199.71 500.50,199.61 501.00,199.72 501.50,199.80 502.00,199.65 502.50,199.75 503.00,199.49 503.50,199.72 504.00,199.92 504.50,200.16 505.00,199.91 505.50,199.82 506.00,200.00 506.50,199.97 507.00,200.10 507.50,199.98 508.00,199.73 508.50,199.81 509.00,199.79 509.50,199.82 510.00,199.80 510.50,199.59 511.00,199.32 511.50,199.62 512.00,199.34 512.50,199.77 513.00,199.75 513.50,199.41 514.00,199.89 514.50,199.92 515.00,199.77 515.50,200.09 516.00,200.13 516.50,199.50 517.00,199.95 517.50,199.83 518.00,199.82 518.50,199.93 519.00,199.59 519.50,199.61 520.00,199.56 520.50,199.58 521.00,199.71 521.50,199.43 522.00,199.51 522.50,199.84 523.00,199.71 523.50,199.80 524.00,199.33 524.50,199.55 525.00,199.60 525.50,199.72 526.00,199.59 526.50,199.90 527.00,199.69 527.50,199.70 528.00,199.70 528.50,199.84 529.00,199.59 529.50,199.91 530.00,199.77 530.50,199.70 531.00,199.68 531.50,199.77 532.00,199.87 532.50,199.85 533.00,199.72 533.50,199.82 534.00,199.65 534.50,199.88 535.00,199.61 535.50,199.17 536.00,199.87 536.50,199.60 537.00,199.32 537.50,199.52 538.00,199.36 538.50,199.97 539.00,199.62 539.50,199.16 540.00,199.59 540.50,199.37 541.00,199.83 541.50,199.18 542.00,198.89 542.50,199.35 543.00,199.22 543.50,199.17 544.00,198.74 544.50,199.24 545.00,199.45 545.50,198.60 546.00,199.18 546.50,198.70 546.60,199.32 546.85,198.84 547.00,198.66 547.10,198.92 547.35,198.72 547.50,198.43 547.60,198.68 547.85,198.32 548.00,197.98 548.10,198.80 548.35,198.16 548.50,198.03 548.60,198.19 548.85,197.63 549.00,197.59 549.10,197.72 549.35,197.55 549.50,197.57 549.60,197.74 549.85,197.15 550.00,197.23 550.10,197.15 550.35,196.47 550.50,196.59 550.60,196.17 550.85,196.26 551.00,195.86 551.10,195.56 551.35,194.69 551.50,194.68 551.60,194.19 551.85,193.78 552.00,193.04 552.10,192.47 552.35,191.77 552.50,190.92 552.60,189.99 552.85,188.74 553.00,187.14 553.10,186.25 553.35,183.85 553.50,181.88 553.60,180.74 553.85,177.61 554.00,176.19 554.10,174.97 554.35,171.95 554.50,171.60 554.60,170.76 554.85,171.14 555.00,172.04 555.10,172.54 555.35,175.17 555.50,175.71 555.60,176.01 555.85,178.24 556.00,178.36 556.10,178.70 556.35,178.37 556.50,179.68 556.60,179.73 556.85,180.12 557.00,180.64 557.10,181.28 557.35,182.26 557.50,183.65 557.60,183.97 557.85,186.12 558.00,187.69 558.10,188.26 558.35,189.52 558.50,190.86 558.60,191.27 558.85,192.30 559.00,193.24 559.10,193.40 559.35,193.93 559.50,194.46 559.60,195.42 559.85,195.18 560.00,195.89 560.10,196.17 560.35,196.57 560.50,196.34 560.60,196.68 560.85,197.08 561.00,197.39 561.10,197.15 561.35,197.24 561.50,197.86 561.60,197.96 561.85,197.95 562.00,197.82 562.10,198.11 562.35,198.17 562.50,198.41 562.60,197.99 562.85,198.40 563.00,198.39 563.10,198.22 563.35,198.60 563.50,198.61 563.60,198.54 563.85,198.79 564.00,198.43 564.10,198.75 564.35,198.92 564.50,198.92 565.00,199.19 565.50,198.77 566.00,198.78 566.50,199.22 567.00,199.32 567.50,199.73 568.00,199.44 568.50,199.16 569.00,199.55 569.50,199.23 570.00,199.12 570.50,200.01 571.00,199.55 571.50,199.65 572.00,199.64 572.50,199.92 573.00,199.61 573.50,199.82 574.00,199.36 574.50,199.30 575.00,199.90 575.50,199.92 576.00,199.72 576.50,199.67 577.00,199.67 577.50,199.50 578.00,199.97 578.50,199.79 579.00,199.77 579.50,199.74 580.00,199.89 580.50,199.78 581.00,199.84 581.50,199.44 582.00,199.79"/><polyline fill="none" stroke="#1c0fd2" stroke-width="1.8" stroke-linejoin="round" points="52.00,262.81 52.50,262.40 53.00,262.46 53.50,262.62 54.00,262.63 54.50,262.58 55.00,262.23 55.50,262.56 56.00,262.30 56.50,262.35 57.00,262.56 57.50,262.43 58.00,262.60 58.50,262.96 59.00,262.60 59.50,262.59 60.00,262.34 60.50,262.38 61.00,262.32 61.50,262.40 62.00,262.31 62.50,262.38 63.00,262.44 63.50,262.32 64.00,262.26 64.50,262.27 65.00,262.54 65.50,262.48 66.00,262.63 66.50,262.63 67.00,262.42 67.50,262.58 68.00,262.25 68.50,262.82 69.00,262.65 69.50,262.44 70.00,262.29 70.50,262.53 71.00,262.19 71.50,262.35 72.00,262.58 72.50,262.48 73.00,262.39 73.50,262.61 74.00,262.31 74.50,262.51 75.00,262.39 75.50,262.34 76.00,262.54 76.50,262.31 77.00,262.76 77.50,262.38 78.00,262.77 78.50,262.30 79.00,262.56 79.50,262.28 80.00,262.26 80.50,262.49 81.00,262.56 81.50,262.27 82.00,262.64 82.50,262.34 83.00,262.48 83.50,262.52 84.00,262.55 84.50,262.18 85.00,262.70 85.50,262.54 86.00,262.39 86.50,262.30 87.00,262.19 87.50,262.24 88.00,262.53 88.50,262.40 89.00,262.28 89.50,262.37 90.00,262.69 90.50,262.40 91.00,262.36 91.50,262.65 92.00,262.51 92.50,262.45 93.00,262.35 93.50,262.20 94.00,262.26 94.50,262.36 95.00,262.40 95.50,262.49 96.00,262.52 96.50,262.47 97.00,262.46 97.50,262.27 98.00,262.10 98.50,262.35 99.00,262.28 99.50,262.32 100.00,262.38 100.50,262.23 101.00,262.24 101.50,262.40 102.00,262.43 102.50,262.31 103.00,262.48 103.50,262.37 104.00,262.24 104.50,262.41 105.00,262.69 105.50,262.29 106.00,262.57 106.50,262.60 107.00,262.62 107.50,262.25 108.00,262.69 108.50,262.39 109.00,262.33 109.50,262.33 110.00,262.46 110.50,262.37 111.00,262.33 111.50,262.55 112.00,262.23 112.50,262.17 113.00,262.46 113.50,262.44 114.00,262.49 114.50,262.14 115.00,262.47 115.50,262.37 116.00,262.57 116.50,262.08 117.00,262.30 117.50,262.22 118.00,262.00 118.50,262.13 119.00,262.40 119.50,262.14 120.00,262.08 120.50,262.32 121.00,262.32 121.50,262.31 122.00,262.00 122.50,262.10 123.00,262.25 123.50,261.96 124.00,261.91 124.50,262.14 125.00,262.22 125.50,261.75 126.00,261.47 126.50,261.61 127.00,261.63 127.50,261.72 128.00,261.78 128.50,261.58 129.00,261.41 129.50,261.45 130.00,261.16 130.50,261.19 131.00,260.94 131.50,261.32 131.60,260.97 131.85,260.59 132.00,260.49 132.10,260.54 132.35,260.21 132.50,260.28 132.60,260.23 132.85,260.35 133.00,260.03 133.10,259.89 133.35,259.61 133.50,259.51 133.60,259.62 133.85,259.36 134.00,259.44 134.10,259.02 134.35,259.01 134.50,258.67 134.60,258.48 134.85,257.72 135.00,257.58 135.10,257.76 135.35,257.34 135.50,256.76 135.60,256.60 135.85,255.64 136.00,255.14 136.10,254.71 136.35,253.96 136.50,253.08 136.60,252.42 136.85,250.79 137.00,249.82 137.10,248.91 137.35,246.10 137.50,244.76 137.60,243.02 137.85,238.61 138.00,235.67 138.10,233.04 138.35,224.93 138.50,219.11 138.60,214.10 138.85,200.33 139.00,190.10 139.10,184.21 139.35,167.08 139.50,160.78 139.60,157.48 139.85,157.19 140.00,160.65 140.10,163.56 140.35,171.10 140.50,176.23 140.60,179.42 140.85,190.56 141.00,197.81 141.10,203.37 141.35,215.44 141.50,221.60 141.60,225.41 141.85,233.11 142.00,236.83 142.10,238.98 142.35,243.11 142.50,245.14 142.60,246.67 142.85,248.70 143.00,250.17 143.10,251.35 143.35,252.09 143.50,253.29 143.60,254.04 143.85,254.64 144.00,255.99 144.10,255.34 144.35,256.82 144.50,257.22 144.60,257.34 144.85,257.65 145.00,258.04 145.10,257.98 145.35,258.68 145.50,258.54 145.60,258.82 145.85,259.35 146.00,259.13 146.10,259.37 146.35,259.69 146.50,259.56 146.60,260.07 146.85,260.11 147.00,259.90 147.10,260.21 147.35,260.24 147.50,260.34 147.60,260.52 147.85,260.51 148.00,260.86 148.10,260.62 148.35,261.01 148.50,260.89 148.60,261.08 148.85,260.93 149.00,260.98 149.10,260.90 149.35,261.27 149.50,261.37 150.00,261.68 150.50,261.65 151.00,261.57 151.50,261.57 152.00,261.74 152.50,261.73 153.00,262.03 153.50,262.00 154.00,261.75 154.50,261.81 155.00,262.18 155.50,262.04 156.00,261.98 156.50,262.24 157.00,262.01 157.50,262.05 158.00,262.04 158.50,261.82 159.00,262.28 159.50,261.97 160.00,262.09 160.50,262.07 161.00,262.32 161.50,262.20 162.00,262.23 162.50,261.97 163.00,262.23 163.50,262.02 164.00,262.31 164.50,262.32 165.00,262.27 165.50,262.60 166.00,262.36 166.50,262.38 167.00,262.31 167.50,262.27 168.00,262.45 168.50,262.48 169.00,262.10 169.50,262.48 170.00,262.39 170.50,262.47 171.00,262.39 171.50,262.13 172.00,262.14 172.50,262.61 173.00,262.36 173.50,262.10 174.00,262.38 174.50,262.27 175.00,262.04 175.50,261.97 176.00,262.08 176.50,262.37 177.00,262.32 177.50,262.29 178.00,262.37 178.50,262.42 179.00,261.99 179.50,262.27 180.00,262.19 180.50,262.12 181.00,262.22 181.50,262.29 182.00,262.26 182.50,262.07 183.00,262.22 183.50,262.60 184.00,262.12 184.50,262.01 185.00,262.31 185.50,262.36 186.00,262.33 186.50,262.07 187.00,262.39 187.50,262.10 188.00,262.03 188.50,262.10 189.00,262.17 189.50,262.28 190.00,262.25 190.50,262.13 191.00,262.26 191.50,262.10 192.00,262.20 192.50,261.80 193.00,261.74 193.50,262.08 194.00,261.69 194.50,261.81 195.00,261.79 195.50,261.66 196.00,261.58 196.50,261.79 197.00,261.04 197.25,261.54 197.50,261.71 197.75,261.26 198.00,261.17 198.25,261.21 198.50,261.29 198.75,260.67 199.00,260.76 199.25,260.58 199.50,260.55 199.75,260.31 200.00,260.19 200.25,259.78 200.50,259.60 200.75,259.17 201.00,258.81 201.25,258.50 201.50,258.01 201.75,257.24 202.00,257.05 202.25,255.90 202.50,254.63 202.75,253.85 203.00,251.92 203.25,250.22 203.50,247.68 203.75,244.73 204.00,241.10 204.25,236.80 204.50,232.67 204.75,229.44 205.00,226.11 205.25,226.11 205.50,227.11 205.75,228.48 206.00,230.59 206.25,234.05 206.50,236.61 206.75,240.60 207.00,243.64 207.25,246.59 207.50,249.26 207.75,251.41 208.00,253.24 208.25,254.48 208.50,255.55 208.75,256.48 209.00,257.45 209.25,257.98 209.50,258.17 209.75,258.68 210.00,259.23 210.25,259.38 210.50,259.70 210.75,259.84 211.00,260.18 211.25,260.48 211.50,260.74 211.75,260.72 212.00,261.20 212.25,260.95 212.50,261.60 212.75,261.33 213.00,261.32 213.25,261.24 213.50,260.92 213.75,261.43 214.00,261.54 214.25,261.88 214.50,261.39 214.75,261.97 215.00,261.66 215.50,261.89 216.00,261.43 216.50,261.92 217.00,261.89 217.50,262.10 218.00,262.04 218.50,261.88 219.00,262.24 219.50,262.23 220.00,262.24 220.50,262.33 221.00,262.36 221.50,262.20 222.00,262.01 222.50,262.02 223.00,262.46 223.50,262.37 224.00,262.29 224.50,262.22 225.00,262.30 225.50,262.31 226.00,262.26 226.50,262.21 227.00,262.67 227.50,262.37 228.00,262.25 228.50,262.15 229.00,262.24 229.50,262.47 230.00,262.48 230.50,262.34 231.00,262.38 231.50,262.33 232.00,262.21 232.50,262.59 233.00,262.45 233.50,262.78 234.00,262.28 234.50,262.38 235.00,262.54 235.50,262.37 236.00,262.19 236.50,262.26 237.00,262.43 237.50,262.47 238.00,262.40 238.50,262.58 239.00,262.58 239.50,262.47 240.00,262.43 240.50,262.39 241.00,262.51 241.50,262.57 242.00,262.44 242.50,262.50 243.00,262.39 243.50,262.22 244.00,262.28 244.50,262.56 245.00,262.51 245.50,262.69 246.00,262.45 246.50,262.58 247.00,262.65 247.50,262.60 248.00,262.35 248.50,262.42 249.00,262.47 249.50,262.30 250.00,262.52 250.50,262.61 251.00,262.38 251.50,262.76 252.00,262.41 252.50,262.42 253.00,262.42 253.50,262.35 254.00,262.52 254.50,262.46 255.00,262.71 255.50,262.55 256.00,262.54 256.50,262.43 257.00,262.25 257.50,262.45 258.00,262.33 258.50,262.61 259.00,262.46 259.50,262.72 260.00,262.58 260.50,262.59 261.00,262.50 261.50,262.50 262.00,262.57 262.50,262.61 263.00,262.36 263.50,262.54 264.00,262.87 264.50,262.46 265.00,262.43 265.50,262.36 266.00,262.25 266.50,262.65 267.00,262.48 267.50,262.52 268.00,262.75 268.50,262.85 269.00,262.34 269.50,262.63 270.00,262.57 270.50,262.53 271.00,262.55 271.50,262.47 272.00,262.72 272.50,262.57 273.00,262.53 273.50,262.67 274.00,262.61 274.50,262.55 275.00,262.53 275.50,262.74 276.00,262.55 276.50,262.46 277.00,262.35 277.50,262.42 278.00,262.32 278.50,262.49 279.00,262.52 279.50,262.17 280.00,262.48 280.50,262.58 281.00,262.50 281.50,262.33 282.00,262.67 282.50,262.37 283.00,262.29 283.50,262.32 284.00,262.48 284.50,262.63 285.00,262.66 285.50,262.51 286.00,262.30 286.50,262.38 287.00,262.34 287.50,262.45 288.00,262.21 288.50,262.50 289.00,262.58 289.50,262.46 290.00,262.55 290.50,262.34 291.00,262.26 291.50,262.38 292.00,262.66 292.50,262.64 293.00,262.41 293.50,262.66 294.00,262.43 294.50,262.71 295.00,262.56 295.50,262.41 296.00,262.60 296.50,262.36 297.00,262.34 297.50,262.26 298.00,262.52 298.50,262.47 299.00,262.47 299.50,262.42 300.00,262.70 300.50,262.42 301.00,262.37 301.50,262.67 302.00,262.70 302.50,262.53 303.00,262.22 303.50,262.39 304.00,262.58 304.50,262.49 305.00,262.72 305.50,262.28 306.00,262.59 306.50,262.39 307.00,262.68 307.50,262.47 308.00,262.64 308.50,262.39 309.00,262.27 309.50,262.32 310.00,262.39 310.50,262.33 311.00,262.67 311.50,262.69 312.00,262.53 312.50,262.33 313.00,262.47 313.50,262.38 314.00,262.71 314.50,262.53 315.00,262.56 315.50,262.42 316.00,262.18 316.50,262.37 317.00,262.32 317.50,262.54 318.00,262.50 318.50,262.36 319.00,262.43 319.50,262.72 320.00,262.34 320.50,262.35 321.00,262.45 321.50,262.38 322.00,262.42 322.50,262.57 323.00,262.75 323.50,262.21 324.00,262.48 324.50,262.49 325.00,262.47 325.50,262.46 326.00,262.43 326.50,262.64 327.00,262.41 327.50,262.47 328.00,262.48 328.50,262.50 329.00,262.46 329.50,262.64 330.00,262.48 330.50,262.51 331.00,262.48 331.50,262.33 332.00,262.36 332.50,262.33 333.00,262.51 333.50,262.38 334.00,262.32 334.50,262.52 335.00,262.56 335.50,262.22 336.00,262.74 336.50,262.49 337.00,262.47 337.50,262.65 338.00,262.49 338.50,262.39 339.00,262.82 339.50,262.32 340.00,262.47 340.50,262.61 341.00,262.32 341.50,262.47 342.00,262.54 342.50,262.85 343.00,262.35 343.50,262.48 344.00,262.58 344.50,262.50 345.00,262.30 345.50,262.55 346.00,262.50 346.50,262.55 347.00,262.65 347.50,262.64 348.00,262.54 348.50,262.53 349.00,262.32 349.50,262.46 350.00,262.52 350.50,262.42 351.00,262.50 351.50,262.36 352.00,262.72 352.50,262.81 353.00,262.42 353.50,262.54 354.00,262.45 354.50,262.67 355.00,262.55 355.50,262.49 356.00,262.45 356.50,262.50 357.00,262.33 357.50,262.58 358.00,262.37 358.50,262.56 359.00,262.50 359.50,262.65 360.00,262.48 360.50,262.63 361.00,262.34 361.50,262.57 362.00,262.44 362.50,262.51 363.00,262.49 363.50,262.62 364.00,262.17 364.50,262.53 365.00,262.25 365.50,262.66 366.00,262.18 366.50,262.32 367.00,262.22 367.50,262.72 368.00,262.28 368.50,262.49 369.00,262.39 369.50,262.20 370.00,262.42 370.50,262.57 371.00,262.44 371.50,262.62 372.00,262.42 372.50,262.47 373.00,262.41 373.50,262.52 374.00,262.76 374.50,262.52 375.00,262.50 375.50,262.37 376.00,262.35 376.50,262.69 377.00,262.30 377.50,262.33 378.00,262.45 378.50,262.40 379.00,262.76 379.50,262.10 380.00,262.52 380.50,262.57 381.00,262.29 381.50,262.36 382.00,262.52 382.50,262.71 383.00,262.32 383.50,262.21 384.00,262.60 384.50,262.69 385.00,262.40 385.50,262.11 386.00,262.67 386.50,262.42 387.00,262.62 387.50,262.44 388.00,262.39 388.50,262.37 389.00,262.67 389.50,262.66 390.00,262.11 390.50,262.29 391.00,262.71 391.50,262.37 392.00,262.22 392.50,262.43 393.00,262.41 393.50,262.40 394.00,262.34 394.50,262.37 395.00,262.34 395.50,262.46 396.00,262.28 396.50,262.35 397.00,262.37 397.50,262.59 398.00,262.44 398.50,262.36 399.00,262.46 399.50,262.43 400.00,262.53 400.50,262.43 401.00,262.62 401.50,262.55 402.00,262.32 402.50,262.25 403.00,262.44 403.50,262.37 404.00,262.26 404.50,262.03 405.00,261.95 405.50,262.28 406.00,262.32 406.50,262.31 407.00,261.95 407.50,262.28 408.00,262.00 408.50,262.10 409.00,262.06 409.50,261.81 410.00,261.78 410.10,261.52 410.35,261.67 410.50,261.50 410.60,261.85 410.85,261.74 411.00,261.85 411.10,261.74 411.35,261.52 411.50,261.64 411.60,261.50 411.85,261.59 412.00,261.50 412.10,261.25 412.35,261.33 412.50,261.28 412.60,261.18 412.85,261.27 413.00,261.33 413.10,260.93 413.35,260.79 413.50,260.37 413.60,260.66 413.85,260.42 414.00,259.99 414.10,260.32 414.35,260.11 414.50,259.70 414.60,259.63 414.85,259.16 415.00,259.21 415.10,258.61 415.35,258.29 415.50,258.31 415.60,257.69 415.85,256.93 416.00,256.22 416.10,255.59 416.35,254.48 416.50,253.61 416.60,252.62 416.85,250.77 417.00,249.45 417.10,248.31 417.35,244.70 417.50,242.88 417.60,241.47 417.85,239.35 418.00,238.20 418.10,237.85 418.35,237.74 418.50,238.47 418.60,239.43 418.85,241.26 419.00,242.03 419.10,242.79 419.35,243.86 419.50,244.12 419.60,244.05 419.85,244.42 420.00,245.38 420.10,245.98 420.35,247.59 420.50,248.77 420.60,249.56 420.85,251.89 421.00,252.86 421.10,253.59 421.35,254.88 421.50,255.71 421.60,256.31 421.85,257.06 422.00,257.50 422.10,257.95 422.35,258.85 422.50,258.98 422.60,259.39 422.85,259.52 423.00,259.71 423.10,259.65 423.35,260.08 423.50,260.57 423.60,260.47 423.85,260.75 424.00,260.85 424.10,260.80 424.35,260.92 424.50,261.05 424.60,261.20 424.85,261.28 425.00,261.34 425.10,261.33 425.35,261.26 425.50,261.40 425.60,261.32 425.85,261.71 426.00,261.24 426.10,261.57 426.35,262.06 426.50,261.64 426.60,261.54 426.85,261.77 427.00,262.00 427.10,261.79 427.35,261.95 427.50,261.89 427.60,261.83 427.85,262.43 428.00,261.95 428.50,261.91 429.00,261.96 429.50,262.14 430.00,262.18 430.50,262.27 431.00,262.20 431.50,261.98 432.00,262.31 432.50,262.19 433.00,262.22 433.50,262.04 434.00,262.20 434.50,262.19 435.00,262.31 435.50,262.10 436.00,262.34 436.50,262.36 437.00,262.18 437.50,262.26 438.00,262.23 438.50,262.51 439.00,261.99 439.50,262.33 440.00,262.13 440.50,262.33 441.00,262.53 441.50,262.30 442.00,262.43 442.50,262.28 443.00,262.71 443.50,262.56 444.00,262.59 444.50,262.22 445.00,262.25 445.50,262.59 446.00,262.40 446.50,262.39 447.00,262.48 447.50,262.24 448.00,262.56 448.50,262.44 449.00,262.51 449.50,262.34 450.00,262.52 450.50,262.34 451.00,262.59 451.50,262.62 452.00,262.59 452.50,262.53 453.00,262.55 453.50,262.04 454.00,262.58 454.50,262.41 455.00,262.47 455.50,262.41 456.00,262.24 456.50,262.38 457.00,262.56 457.50,262.68 458.00,262.36 458.50,262.32 459.00,262.68 459.50,262.33 460.00,262.78 460.50,262.47 461.00,262.33 461.50,262.61 462.00,262.72 462.50,262.25 463.00,262.70 463.50,262.42 464.00,262.69 464.50,262.41 465.00,262.23 465.50,262.54 466.00,262.61 466.50,262.79 467.00,262.73 467.50,262.58 468.00,262.43 468.50,262.39 469.00,262.43 469.50,262.34 470.00,262.43 470.50,262.08 471.00,262.50 471.50,262.47 472.00,262.86 472.50,262.59 473.00,262.40 473.50,262.56 474.00,262.29 474.50,262.38 475.00,262.19 475.50,262.69 476.00,262.56 476.50,262.29 477.00,262.46 477.50,262.62 478.00,262.55 478.50,262.53 479.00,262.34 479.50,262.38 480.00,262.49 480.50,262.61 481.00,262.35 481.50,262.30 482.00,262.65 482.50,262.33 483.00,262.64 483.50,262.51 484.00,262.61 484.50,262.74 485.00,262.58 485.50,262.59 486.00,262.33 486.50,262.37 487.00,262.57 487.50,262.71 488.00,262.69 488.50,262.83 489.00,262.52 489.50,262.50 490.00,262.63 490.50,262.48 491.00,262.46 491.50,262.31 492.00,262.62 492.50,262.31 493.00,262.55 493.50,262.26 494.00,262.64 494.50,262.31 495.00,262.60 495.50,262.23 496.00,262.40 496.50,262.65 497.00,262.35 497.50,262.48 498.00,262.40 498.50,262.12 499.00,262.52 499.50,262.54 500.00,262.30 500.50,262.56 501.00,262.35 501.50,262.31 502.00,262.47 502.50,262.36 503.00,262.82 503.50,262.23 504.00,262.58 504.50,262.62 505.00,262.16 505.50,262.20 506.00,262.55 506.50,262.39 507.00,262.52 507.50,262.64 508.00,262.41 508.50,262.30 509.00,262.04 509.50,262.49 510.00,262.32 510.50,262.51 511.00,262.49 511.50,262.25 512.00,262.72 512.50,262.62 513.00,262.59 513.50,262.27 514.00,262.39 514.50,262.37 515.00,262.39 515.50,262.28 516.00,262.52 516.50,262.48 517.00,262.50 517.50,262.37 518.00,262.64 518.50,262.47 519.00,262.02 519.50,262.34 520.00,262.43 520.50,262.59 521.00,262.39 521.50,262.40 522.00,262.33 522.50,262.53 523.00,262.36 523.50,262.34 524.00,262.31 524.50,262.51 525.00,262.34 525.50,262.16 526.00,262.51 526.50,262.31 527.00,262.47 527.50,262.47 528.00,262.59 528.50,262.56 529.00,262.31 529.50,262.37 530.00,262.19 530.50,262.65 531.00,262.45 531.50,262.60 532.00,262.32 532.50,262.05 533.00,262.60 533.50,262.37 534.00,262.37 534.50,262.35 535.00,262.44 535.50,262.41 536.00,262.07 536.50,262.48 537.00,262.22 537.50,262.22 538.00,262.55 538.50,262.41 539.00,262.20 539.50,261.95 540.00,262.25 540.50,262.29 541.00,262.17 541.50,261.97 542.00,262.02 542.50,261.92 543.00,262.12 543.50,262.18 544.00,262.18 544.50,261.85 545.00,261.96 545.50,261.96 546.00,261.72 546.50,261.70 547.00,261.99 547.30,261.61 547.50,261.68 547.55,261.45 547.80,261.47 548.00,261.13 548.05,261.39 548.30,261.52 548.50,261.61 548.55,261.45 548.80,261.27 549.00,261.09 549.05,260.96 549.30,260.92 549.50,260.96 549.55,260.70 549.80,260.85 550.00,260.40 550.05,260.23 550.30,260.19 550.50,259.92 550.55,259.92 550.80,260.13 551.00,259.69 551.05,259.71 551.30,259.57 551.50,259.31 551.55,258.92 551.80,258.83 552.00,258.27 552.05,258.10 552.30,257.59 552.50,256.69 552.55,256.65 552.80,255.92 553.00,255.23 553.05,254.82 553.30,253.58 553.50,252.56 553.55,252.31 553.80,250.25 554.00,248.53 554.05,247.69 554.30,245.00 554.50,242.77 554.55,242.04 554.80,239.10 555.00,237.68 555.05,236.88 555.30,235.55 555.50,235.96 555.55,236.41 555.80,237.33 556.00,239.05 556.05,239.05 556.30,240.82 556.50,241.92 556.55,242.27 556.80,243.56 557.00,243.27 557.05,243.93 557.30,243.58 557.50,244.02 557.55,244.35 557.80,245.12 558.00,246.10 558.05,246.00 558.30,248.17 558.50,249.39 558.55,250.50 558.80,251.72 559.00,253.08 559.05,253.11 559.30,254.58 559.50,255.33 559.55,255.96 559.80,256.64 560.00,257.41 560.05,257.32 560.30,257.97 560.50,258.72 560.55,258.41 560.80,258.69 561.00,259.38 561.05,259.18 561.30,259.62 561.50,260.07 561.55,259.82 561.80,260.34 562.00,260.24 562.05,260.65 562.30,260.79 562.50,260.61 562.55,260.69 562.80,260.72 563.00,260.99 563.05,261.17 563.30,260.84 563.50,261.32 563.55,260.96 563.80,261.13 564.00,261.04 564.05,261.70 564.30,261.43 564.50,261.51 564.55,261.37 564.80,261.72 565.00,261.24 565.05,261.60 565.50,262.05 566.00,261.70 566.50,261.84 567.00,262.01 567.50,261.82 568.00,262.00 568.50,262.19 569.00,262.10 569.50,262.16 570.00,262.08 570.50,262.21 571.00,262.19 571.50,262.43 572.00,262.33 572.50,262.20 573.00,261.86 573.50,262.38 574.00,262.40 574.50,262.15 575.00,261.99 575.50,262.13 576.00,262.46 576.50,262.16 577.00,262.26 577.50,262.38 578.00,262.54 578.50,262.35 579.00,262.35 579.50,262.28 580.00,262.63 580.50,262.54 581.00,262.37 581.50,262.17 582.00,262.27"/><polyline fill="none" stroke="#15857e" stroke-width="1.8" stroke-linejoin="round" points="52.00,324.90 52.50,324.64 53.00,324.96 53.50,324.85 54.00,324.84 54.50,324.91 55.00,324.88 55.50,324.61 56.00,324.71 56.50,325.25 57.00,324.54 57.50,324.68 58.00,325.00 58.50,324.75 59.00,324.61 59.50,324.51 60.00,324.89 60.50,324.99 61.00,325.06 61.50,324.79 62.00,324.99 62.50,324.57 63.00,324.81 63.50,324.64 64.00,324.81 64.50,324.93 65.00,324.99 65.50,324.57 66.00,325.03 66.50,324.68 67.00,324.57 67.50,324.74 68.00,324.48 68.50,324.77 69.00,324.83 69.50,324.73 70.00,324.88 70.50,324.71 71.00,324.77 71.50,324.48 72.00,324.78 72.50,324.60 73.00,324.68 73.50,324.75 74.00,324.81 74.50,324.43 75.00,324.45 75.50,324.71 76.00,324.86 76.50,324.84 77.00,324.95 77.50,325.03 78.00,324.87 78.50,324.76 79.00,324.56 79.50,324.57 80.00,324.67 80.50,324.82 81.00,324.81 81.50,324.76 82.00,324.73 82.50,324.89 83.00,324.80 83.50,324.82 84.00,324.82 84.50,324.65 85.00,324.55 85.50,324.86 86.00,324.84 86.50,324.71 87.00,324.67 87.50,325.22 88.00,324.60 88.50,324.71 89.00,324.81 89.50,324.52 90.00,324.77 90.50,325.12 91.00,324.94 91.50,324.88 92.00,324.87 92.50,324.77 93.00,324.94 93.50,324.71 94.00,324.66 94.50,324.76 95.00,324.93 95.50,324.81 96.00,324.88 96.50,324.32 97.00,324.98 97.50,325.21 98.00,325.01 98.50,324.66 99.00,324.55 99.50,324.78 100.00,324.52 100.50,324.87 101.00,324.61 101.50,324.92 102.00,325.00 102.50,324.30 103.00,324.77 103.50,324.57 104.00,324.42 104.50,324.58 105.00,324.66 105.50,324.91 106.00,324.38 106.50,324.91 107.00,325.11 107.50,324.81 108.00,324.80 108.50,324.68 109.00,324.44 109.50,324.79 110.00,324.75 110.50,324.82 111.00,325.20 111.50,324.81 112.00,324.74 112.50,324.97 113.00,324.37 113.50,324.40 114.00,324.56 114.50,324.49 115.00,324.77 115.50,324.55 116.00,324.97 116.50,324.92 117.00,324.75 117.50,324.50 118.00,324.70 118.50,324.73 119.00,324.33 119.50,324.61 120.00,324.68 120.50,324.56 121.00,324.83 121.50,324.74 122.00,324.30 122.50,324.48 123.00,324.26 123.50,324.54 124.00,324.21 124.50,324.56 125.00,324.42 125.50,324.52 126.00,324.24 126.50,323.92 127.00,324.58 127.50,324.12 128.00,324.40 128.50,324.14 129.00,324.13 129.50,324.31 130.00,323.90 130.50,324.04 131.00,323.29 131.50,323.69 132.00,323.29 132.50,323.14 132.75,323.07 133.00,323.03 133.25,323.21 133.50,322.27 133.75,322.56 134.00,322.22 134.25,322.47 134.50,321.89 134.75,321.87 135.00,321.40 135.25,321.36 135.50,321.10 135.75,320.37 136.00,320.03 136.25,319.15 136.50,318.96 136.75,318.37 137.00,317.15 137.25,316.53 137.50,314.42 137.75,312.90 138.00,311.04 138.25,308.77 138.50,305.67 138.75,301.38 139.00,295.69 139.25,288.26 139.50,277.50 139.75,263.63 140.00,247.31 140.25,232.73 140.50,221.26 140.75,221.90 141.00,228.43 141.25,235.32 141.50,242.99 141.75,254.03 142.00,266.92 142.25,278.99 142.50,288.14 142.75,296.21 143.00,301.72 143.25,306.21 143.50,309.51 143.75,311.52 144.00,313.18 144.25,315.22 144.50,316.83 144.75,317.58 145.00,318.31 145.25,319.57 145.50,319.32 145.75,320.31 146.00,320.39 146.25,320.92 146.50,321.27 146.75,321.89 147.00,321.57 147.25,321.90 147.50,321.85 147.75,322.52 148.00,322.46 148.25,322.81 148.50,322.60 148.75,322.88 149.00,323.31 149.25,323.13 149.50,323.41 149.75,323.47 150.00,323.35 150.25,323.15 150.50,323.78 151.00,323.71 151.50,323.99 152.00,323.42 152.50,323.58 153.00,323.54 153.50,323.88 154.00,324.34 154.50,324.29 155.00,324.20 155.50,324.27 156.00,324.44 156.50,324.24 157.00,324.42 157.50,324.39 158.00,323.92 158.50,324.32 159.00,324.71 159.50,324.36 160.00,324.43 160.50,324.34 161.00,324.38 161.50,324.74 162.00,324.45 162.50,324.31 163.00,323.88 163.50,324.42 164.00,324.13 164.50,324.17 165.00,324.73 165.50,324.72 166.00,324.17 166.50,324.76 167.00,324.68 167.50,324.43 168.00,324.75 168.50,324.26 169.00,324.35 169.50,324.31 170.00,324.38 170.50,324.80 171.00,324.34 171.50,324.38 172.00,324.42 172.50,324.66 173.00,324.55 173.50,324.81 174.00,324.48 174.50,324.36 175.00,324.52 175.50,324.64 176.00,324.44 176.50,324.69 177.00,325.01 177.50,324.51 178.00,324.64 178.50,324.91 179.00,324.49 179.50,324.45 180.00,324.39 180.50,324.70 181.00,324.72 181.50,324.58 182.00,324.62 182.50,324.87 183.00,324.78 183.50,324.30 184.00,324.59 184.50,324.61 185.00,324.73 185.50,324.53 186.00,324.43 186.50,324.46 187.00,324.18 187.50,324.54 188.00,324.41 188.50,324.62 189.00,324.29 189.50,324.40 190.00,324.27 190.50,324.24 191.00,324.59 191.50,324.33 192.00,324.50 192.50,324.14 193.00,324.37 193.50,323.96 194.00,324.18 194.50,324.14 195.00,324.33 195.50,324.19 196.00,324.05 196.50,324.21 197.00,323.99 197.50,323.97 197.90,323.93 198.00,323.73 198.15,323.64 198.40,323.71 198.50,323.52 198.65,323.65 198.90,323.73 199.00,323.64 199.15,323.31 199.40,323.01 199.50,323.24 199.65,323.16 199.90,323.32 200.00,322.93 200.15,322.88 200.40,322.95 200.50,322.60 200.65,322.57 200.90,322.80 201.00,322.67 201.15,322.33 201.40,321.99 201.50,321.58 201.65,321.76 201.90,321.29 202.00,321.18 202.15,320.75 202.40,320.39 202.50,320.14 202.65,319.90 202.90,319.50 203.00,318.92 203.15,317.90 203.40,317.06 203.50,316.44 203.65,315.86 203.90,314.68 204.00,313.92 204.15,312.45 204.40,310.29 204.50,308.89 204.65,306.86 204.90,303.29 205.00,301.86 205.15,300.06 205.40,295.02 205.50,294.24 205.65,292.21 205.90,289.46 206.00,289.08 206.15,288.79 206.40,289.87 206.50,290.70 206.65,291.57 206.90,294.02 207.00,295.05 207.15,296.41 207.40,299.48 207.50,300.70 207.65,302.87 207.90,305.78 208.00,307.46 208.15,309.15 208.40,311.41 208.50,313.12 208.65,313.48 208.90,315.21 209.00,316.09 209.15,316.31 209.40,317.72 209.50,317.92 209.65,318.58 209.90,319.53 210.00,319.91 210.15,320.45 210.40,320.90 210.50,321.17 210.65,321.28 210.90,321.40 211.00,321.90 211.15,321.71 211.40,321.96 211.50,322.55 211.65,322.52 211.90,322.60 212.00,322.79 212.15,322.93 212.40,322.58 212.50,322.93 212.65,322.76 212.90,323.19 213.00,323.05 213.15,323.58 213.40,323.49 213.50,323.23 213.65,323.46 213.90,323.28 214.00,323.59 214.15,323.75 214.40,323.75 214.50,323.29 214.65,323.68 214.90,323.93 215.00,323.90 215.15,324.12 215.40,323.63 215.50,324.05 215.65,323.82 216.00,324.06 216.50,324.18 217.00,324.30 217.50,324.08 218.00,324.29 218.50,324.04 219.00,324.03 219.50,324.48 220.00,324.38 220.50,324.07 221.00,324.26 221.50,324.47 222.00,324.81 222.50,324.72 223.00,324.68 223.50,324.16 224.00,324.52 224.50,324.66 225.00,324.65 225.50,324.67 226.00,324.54 226.50,324.96 227.00,324.91 227.50,324.59 228.00,324.42 228.50,325.05 229.00,324.52 229.50,324.89 230.00,325.04 230.50,324.46 231.00,324.72 231.50,324.59 232.00,324.77 232.50,324.74 233.00,325.08 233.50,324.80 234.00,324.68 234.50,324.92 235.00,324.63 235.50,324.61 236.00,325.15 236.50,324.53 237.00,324.60 237.50,324.71 238.00,324.49 238.50,324.27 239.00,324.92 239.50,324.55 240.00,324.60 240.50,324.64 241.00,324.51 241.50,324.50 242.00,324.75 242.50,325.21 243.00,324.87 243.50,324.88 244.00,324.42 244.50,324.72 245.00,324.49 245.50,324.89 246.00,324.68 246.50,324.74 247.00,324.71 247.50,324.61 248.00,324.42 248.50,324.85 249.00,324.45 249.50,324.50 250.00,324.68 250.50,324.60 251.00,324.79 251.50,324.95 252.00,324.79 252.50,324.78 253.00,324.75 253.50,324.92 254.00,324.37 254.50,324.82 255.00,324.56 255.50,324.50 256.00,324.75 256.50,324.67 257.00,324.87 257.50,324.97 258.00,324.28 258.50,324.74 259.00,325.15 259.50,324.93 260.00,325.05 260.50,324.77 261.00,324.46 261.50,324.53 262.00,324.90 262.50,324.95 263.00,324.61 263.50,324.70 264.00,324.81 264.50,324.40 265.00,324.69 265.50,325.09 266.00,325.20 266.50,324.74 267.00,325.13 267.50,324.65 268.00,324.59 268.50,324.30 269.00,324.95 269.50,324.68 270.00,325.24 270.50,324.83 271.00,324.80 271.50,324.39 272.00,325.07 272.50,324.69 273.00,324.73 273.50,324.31 274.00,324.95 274.50,324.96 275.00,324.64 275.50,324.78 276.00,324.84 276.50,324.96 277.00,324.79 277.50,325.11 278.00,324.72 278.50,324.64 279.00,324.67 279.50,324.25 280.00,324.60 280.50,324.97 281.00,324.82 281.50,324.60 282.00,324.84 282.50,324.36 283.00,324.71 283.50,324.87 284.00,324.91 284.50,324.61 285.00,324.95 285.50,325.15 286.00,324.68 286.50,324.92 287.00,324.45 287.50,324.37 288.00,324.89 288.50,324.78 289.00,324.81 289.50,324.65 290.00,324.71 290.50,324.93 291.00,325.12 291.50,324.73 292.00,324.44 292.50,325.03 293.00,324.89 293.50,324.91 294.00,324.81 294.50,325.24 295.00,324.79 295.50,324.88 296.00,324.40 296.50,324.65 297.00,324.63 297.50,324.77 298.00,324.84 298.50,324.62 299.00,325.12 299.50,324.56 300.00,324.68 300.50,324.82 301.00,324.52 301.50,324.89 302.00,324.90 302.50,324.71 303.00,325.16 303.50,324.79 304.00,324.83 304.50,324.58 305.00,324.43 305.50,324.65 306.00,324.71 306.50,324.68 307.00,324.93 307.50,324.29 308.00,324.54 308.50,324.40 309.00,325.05 309.50,324.66 310.00,324.67 310.50,324.55 311.00,324.96 311.50,324.69 312.00,324.82 312.50,324.36 313.00,325.01 313.50,324.85 314.00,324.89 314.50,325.02 315.00,324.74 315.50,324.74 316.00,324.92 316.50,324.86 317.00,324.73 317.50,324.78 318.00,324.67 318.50,324.92 319.00,324.96 319.50,324.78 320.00,325.16 320.50,324.46 321.00,324.73 321.50,325.12 322.00,324.69 322.50,324.45 323.00,325.06 323.50,324.89 324.00,324.53 324.50,324.93 325.00,324.57 325.50,324.50 326.00,324.74 326.50,324.68 327.00,324.55 327.50,324.70 328.00,324.57 328.50,324.79 329.00,324.77 329.50,324.93 330.00,324.68 330.50,324.50 331.00,324.51 331.50,324.73 332.00,325.09 332.50,324.95 333.00,324.64 333.50,324.97 334.00,324.54 334.50,324.98 335.00,324.70 335.50,324.93 336.00,324.90 336.50,324.72 337.00,324.84 337.50,324.56 338.00,324.76 338.50,324.99 339.00,325.61 339.50,324.92 340.00,324.79 340.50,324.57 341.00,324.99 341.50,324.44 342.00,324.61 342.50,324.85 343.00,324.53 343.50,325.09 344.00,325.00 344.50,324.66 345.00,324.66 345.50,324.51 346.00,324.49 346.50,324.86 347.00,324.90 347.50,324.84 348.00,324.83 348.50,324.66 349.00,324.85 349.50,324.47 350.00,324.77 350.50,325.07 351.00,325.04 351.50,324.68 352.00,324.70 352.50,325.05 353.00,325.14 353.50,324.47 354.00,324.69 354.50,324.82 355.00,325.02 355.50,324.60 356.00,324.90 356.50,324.71 357.00,325.25 357.50,324.86 358.00,324.74 358.50,324.70 359.00,324.99 359.50,324.91 360.00,324.55 360.50,324.81 361.00,324.50 361.50,324.62 362.00,324.51 362.50,324.50 363.00,324.63 363.50,324.57 364.00,324.88 364.50,324.93 365.00,324.72 365.50,324.54 366.00,324.93 366.50,324.35 367.00,324.37 367.50,324.91 368.00,324.90 368.50,324.96 369.00,324.72 369.50,324.51 370.00,324.66 370.50,324.88 371.00,324.61 371.50,324.62 372.00,324.48 372.50,324.52 373.00,324.93 373.50,324.85 374.00,324.52 374.50,324.54 375.00,324.65 375.50,324.87 376.00,324.52 376.50,324.72 377.00,324.32 377.50,324.50 378.00,324.84 378.50,324.94 379.00,324.52 379.50,324.60 380.00,324.92 380.50,324.67 381.00,324.64 381.50,324.86 382.00,324.79 382.50,324.98 383.00,324.91 383.50,324.63 384.00,324.72 384.50,324.73 385.00,324.47 385.50,324.54 386.00,324.94 386.50,324.41 387.00,324.94 387.50,324.80 388.00,324.71 388.50,324.85 389.00,324.83 389.50,324.98 390.00,324.65 390.50,324.68 391.00,324.68 391.50,325.11 392.00,324.92 392.50,324.53 393.00,324.65 393.50,324.57 394.00,324.71 394.50,324.75 395.00,325.18 395.50,324.33 396.00,324.91 396.50,324.79 397.00,324.55 397.50,324.66 398.00,324.58 398.50,324.69 399.00,324.88 399.50,324.35 400.00,324.93 400.50,324.58 401.00,324.96 401.50,324.73 402.00,324.89 402.50,324.74 403.00,324.84 403.50,324.61 404.00,324.42 404.50,324.72 405.00,324.71 405.50,324.99 406.00,324.11 406.50,324.47 407.00,324.71 407.50,324.20 408.00,324.38 408.50,324.85 409.00,324.67 409.50,324.13 410.00,324.58 410.50,324.47 411.00,324.31 411.10,324.21 411.35,324.14 411.50,323.88 411.60,323.93 411.85,324.16 412.00,324.00 412.10,324.35 412.35,323.82 412.50,323.32 412.60,323.75 412.85,323.81 413.00,323.79 413.10,323.69 413.35,323.40 413.50,323.86 413.60,323.33 413.85,323.53 414.00,323.23 414.10,322.97 414.35,323.41 414.50,322.42 414.60,322.72 414.85,322.82 415.00,322.51 415.10,322.66 415.35,322.20 415.50,321.93 415.60,322.41 415.85,321.47 416.00,321.22 416.10,320.80 416.35,320.32 416.50,320.27 416.60,319.95 416.85,318.96 417.00,318.17 417.10,318.06 417.35,316.09 417.50,315.45 417.60,314.73 417.85,312.39 418.00,311.11 418.10,309.74 418.35,306.54 418.50,305.28 418.60,303.67 418.85,301.01 419.00,299.58 419.10,299.48 419.35,299.68 419.50,300.63 419.60,301.67 419.85,302.80 420.00,303.95 420.10,304.42 420.35,304.41 420.50,305.39 420.60,306.00 420.85,306.78 421.00,307.02 421.10,308.02 421.35,309.80 421.50,310.58 421.60,311.95 421.85,314.14 422.00,314.96 422.10,315.30 422.35,317.49 422.50,317.85 422.60,318.27 422.85,319.39 423.00,319.73 423.10,320.42 423.35,320.99 423.50,321.42 423.60,321.46 423.85,321.56 424.00,321.93 424.10,322.31 424.35,322.30 424.50,323.22 424.60,322.59 424.85,322.73 425.00,323.23 425.10,323.21 425.35,323.19 425.50,323.23 425.60,323.43 425.85,323.64 426.00,323.69 426.10,323.50 426.35,323.75 426.50,323.89 426.60,323.91 426.85,323.14 427.00,323.66 427.10,323.71 427.35,323.89 427.50,324.01 427.60,324.20 427.85,324.18 428.00,324.04 428.10,324.09 428.35,324.51 428.50,324.02 428.60,324.23 428.85,324.54 429.00,324.30 429.50,323.84 430.00,324.41 430.50,324.29 431.00,324.38 431.50,324.66 432.00,324.57 432.50,324.44 433.00,324.70 433.50,324.63 434.00,324.58 434.50,324.63 435.00,324.64 435.50,324.53 436.00,324.51 436.50,324.62 437.00,324.43 437.50,324.38 438.00,324.92 438.50,324.60 439.00,324.66 439.50,324.64 440.00,324.68 440.50,324.68 441.00,324.70 441.50,324.52 442.00,324.89 442.50,324.56 443.00,324.92 443.50,324.31 444.00,324.49 444.50,324.92 445.00,324.69 445.50,324.58 446.00,324.80 446.50,324.51 447.00,324.74 447.50,324.27 448.00,324.64 448.50,324.60 449.00,324.85 449.50,324.92 450.00,324.56 450.50,325.07 451.00,324.62 451.50,324.32 452.00,324.26 452.50,325.06 453.00,324.73 453.50,324.62 454.00,324.60 454.50,324.53 455.00,325.03 455.50,324.74 456.00,325.12 456.50,324.71 457.00,324.28 457.50,324.93 458.00,324.68 458.50,324.71 459.00,325.08 459.50,324.71 460.00,325.00 460.50,324.76 461.00,324.61 461.50,324.87 462.00,324.64 462.50,325.01 463.00,324.96 463.50,324.78 464.00,324.89 464.50,324.88 465.00,324.71 465.50,324.95 466.00,324.72 466.50,324.89 467.00,324.57 467.50,324.79 468.00,324.85 468.50,324.61 469.00,324.68 469.50,324.66 470.00,324.92 470.50,324.62 471.00,324.86 471.50,325.08 472.00,324.84 472.50,324.44 473.00,324.80 473.50,324.98 474.00,324.71 474.50,325.00 475.00,324.90 475.50,324.86 476.00,324.72 476.50,324.67 477.00,324.72 477.50,324.79 478.00,324.88 478.50,324.86 479.00,324.71 479.50,324.79 480.00,324.85 480.50,324.44 481.00,324.62 481.50,324.61 482.00,324.73 482.50,324.72 483.00,324.72 483.50,324.60 484.00,324.91 484.50,324.83 485.00,324.44 485.50,324.78 486.00,324.55 486.50,325.12 487.00,324.68 487.50,324.70 488.00,324.79 488.50,324.74 489.00,324.76 489.50,325.09 490.00,324.82 490.50,324.95 491.00,325.01 491.50,324.58 492.00,325.12 492.50,324.92 493.00,324.97 493.50,324.60 494.00,324.94 494.50,324.86 495.00,324.67 495.50,325.24 496.00,324.89 496.50,324.73 497.00,324.81 497.50,324.96 498.00,325.00 498.50,324.89 499.00,325.02 499.50,325.07 500.00,324.52 500.50,324.67 501.00,324.58 501.50,324.79 502.00,325.07 502.50,324.90 503.00,324.56 503.50,324.71 504.00,324.98 504.50,324.66 505.00,324.75 505.50,324.83 506.00,324.40 506.50,324.93 507.00,324.84 507.50,324.88 508.00,324.57 508.50,324.61 509.00,324.64 509.50,324.82 510.00,324.78 510.50,324.79 511.00,325.13 511.50,325.03 512.00,324.62 512.50,324.63 513.00,325.11 513.50,324.70 514.00,325.04 514.50,325.08 515.00,324.65 515.50,324.70 516.00,324.77 516.50,324.58 517.00,324.55 517.50,324.67 518.00,324.93 518.50,324.66 519.00,324.71 519.50,324.65 520.00,324.47 520.50,325.05 521.00,324.26 521.50,324.61 522.00,324.86 522.50,324.45 523.00,324.86 523.50,324.99 524.00,324.56 524.50,324.77 525.00,324.50 525.50,324.83 526.00,324.74 526.50,324.77 527.00,325.00 527.50,324.81 528.00,324.99 528.50,324.84 529.00,324.46 529.50,324.76 530.00,324.80 530.50,324.40 531.00,324.97 531.50,324.70 532.00,324.76 532.50,324.50 533.00,324.69 533.50,324.73 534.00,324.60 534.50,324.68 535.00,324.21 535.50,324.93 536.00,324.41 536.50,324.18 537.00,324.42 537.50,324.44 538.00,324.72 538.50,324.40 539.00,324.64 539.50,324.37 540.00,325.02 540.50,324.66 541.00,324.94 541.50,324.29 542.00,324.63 542.50,324.26 543.00,324.56 543.50,324.56 544.00,324.04 544.50,324.11 545.00,324.06 545.50,323.95 546.00,324.06 546.50,323.96 547.00,323.78 547.50,324.04 548.00,324.05 548.30,323.58 548.50,323.71 548.55,323.82 548.80,323.70 549.00,323.55 549.05,323.87 549.30,323.80 549.50,323.70 549.55,323.49 549.80,323.89 550.00,323.76 550.05,323.26 550.30,323.21 550.50,323.41 550.55,322.93 550.80,323.06 551.00,322.86 551.05,322.66 551.30,322.59 551.50,322.12 551.55,322.31 551.80,321.74 552.00,322.53 552.05,322.29 552.30,321.92 552.50,321.42 552.55,321.51 552.80,321.15 553.00,320.70 553.05,320.57 553.30,319.53 553.50,319.29 553.55,318.90 553.80,317.87 554.00,317.04 554.05,317.21 554.30,316.08 554.50,314.19 554.55,314.67 554.80,312.66 555.00,310.31 555.05,309.78 555.30,307.15 555.50,305.07 555.55,304.06 555.80,300.92 556.00,299.42 556.05,298.31 556.30,297.81 556.50,298.20 556.55,298.09 556.80,299.57 557.00,300.96 557.05,301.41 557.30,303.04 557.50,303.91 557.55,304.32 557.80,305.24 558.00,305.99 558.05,306.15 558.30,306.02 558.50,305.95 558.55,306.06 558.80,307.03 559.00,308.52 559.05,308.54 559.30,310.20 559.50,311.52 559.55,312.35 559.80,313.99 560.00,315.20 560.05,315.54 560.30,317.30 560.50,317.74 560.55,318.41 560.80,319.22 561.00,319.55 561.05,319.89 561.30,320.28 561.50,320.53 561.55,320.77 561.80,321.05 562.00,321.69 562.05,321.64 562.30,322.09 562.50,322.37 562.55,321.50 562.80,322.53 563.00,322.21 563.05,322.70 563.30,322.64 563.50,322.99 563.55,323.31 563.80,322.75 564.00,323.28 564.05,323.24 564.30,322.95 564.50,323.59 564.55,323.48 564.80,323.44 565.00,323.46 565.05,324.35 565.30,323.62 565.50,323.36 565.55,323.57 565.80,323.75 566.00,323.79 566.05,323.87 566.50,323.75 567.00,324.18 567.50,324.02 568.00,323.90 568.50,324.07 569.00,324.21 569.50,324.51 570.00,324.47 570.50,324.33 571.00,324.43 571.50,324.50 572.00,324.91 572.50,324.37 573.00,324.61 573.50,324.68 574.00,324.35 574.50,324.60 575.00,324.61 575.50,324.49 576.00,324.72 576.50,324.82 577.00,324.85 577.50,324.59 578.00,324.67 578.50,325.13 579.00,324.42 579.50,324.70 580.00,324.85 580.50,324.70 581.00,324.81 581.50,324.71 582.00,324.84"/>
<line x1="140.8" y1="323.8" x2="140.8" y2="389" stroke="#dc14dc" stroke-width="1.5" stroke-dasharray="7 2 1.3 2"/><line x1="205.8" y1="336.6" x2="205.8" y2="389" stroke="#dc14dc" stroke-width="1.5" stroke-dasharray="7 2 1.3 2"/><line x1="420.1" y1="360" x2="420.1" y2="389" stroke="#dc14dc" stroke-width="1.5" stroke-dasharray="7 2 1.3 2"/><line x1="557" y1="361.8" x2="557" y2="389" stroke="#dc14dc" stroke-width="1.5" stroke-dasharray="7 2 1.3 2"/>
<g fill="#dc14dc" font-size="18" letter-spacing="0.7">
<text x="144" y="346.9">(111)</text>
<text x="211.3" y="347.9">(200)</text>
<text x="427.3" y="372.4">(220)</text>
<text x="507.4" y="371.8">(311)</text>
<text x="359.5" y="347.9" font-size="19" letter-spacing="0">JCPDS 04-0783</text>
</g>
<g fill="#000">
<text x="235" y="126.1" font-size="19">Ag<tspan font-size="10.5" dy="-10.5">+</tspan><tspan dy="10.5"> 1.925 mol/L</tspan></text>
<text x="232.5" y="188.6" font-size="19">Ag<tspan font-size="10.5" dy="-10.5">+</tspan><tspan dy="10.5"> 1.540 mol/L</tspan></text>
<text x="234" y="250.1" font-size="19">Ag<tspan font-size="10.5" dy="-10.5">+</tspan><tspan dy="10.5"> 0.770 mol/L</tspan></text>
<text x="231" y="312.7" font-size="19">Ag<tspan font-size="10.5" dy="-10.5">+</tspan><tspan dy="10.5"> 0.385 mol/L</tspan></text>
</g>
<rect x="52" y="2.1" width="530" height="387" fill="none" stroke="#000" stroke-width="2" stroke-linejoin="round"/>
<line x1="52.0" y1="389" x2="52.0" y2="381" stroke="#000" stroke-width="2"/><line x1="105.0" y1="389" x2="105.0" y2="385" stroke="#000" stroke-width="2"/><line x1="158.0" y1="389" x2="158.0" y2="381" stroke="#000" stroke-width="2"/><line x1="211.0" y1="389" x2="211.0" y2="385" stroke="#000" stroke-width="2"/><line x1="264.0" y1="389" x2="264.0" y2="381" stroke="#000" stroke-width="2"/><line x1="317.0" y1="389" x2="317.0" y2="385" stroke="#000" stroke-width="2"/><line x1="370.0" y1="389" x2="370.0" y2="381" stroke="#000" stroke-width="2"/><line x1="423.0" y1="389" x2="423.0" y2="385" stroke="#000" stroke-width="2"/><line x1="476.0" y1="389" x2="476.0" y2="381" stroke="#000" stroke-width="2"/><line x1="529.0" y1="389" x2="529.0" y2="385" stroke="#000" stroke-width="2"/><line x1="582.0" y1="389" x2="582.0" y2="381" stroke="#000" stroke-width="2"/>
<g fill="#000"><text x="52.0" y="417" text-anchor="middle" font-size="24">30</text><text x="158.0" y="417" text-anchor="middle" font-size="24">40</text><text x="264.0" y="417" text-anchor="middle" font-size="24">50</text><text x="370.0" y="417" text-anchor="middle" font-size="24">60</text><text x="476.0" y="417" text-anchor="middle" font-size="24">70</text><text x="582.0" y="417" text-anchor="middle" font-size="24">80</text></g>
<text x="201" y="462.7" font-size="30.5" letter-spacing="0.45" fill="#000">2 Theta (degree)</text>
<text transform="translate(23.3,260.6) rotate(-90)" x="0" y="0" font-size="30.5" letter-spacing="0.25" fill="#000">Intensity</text>
</svg>
</body></html>
